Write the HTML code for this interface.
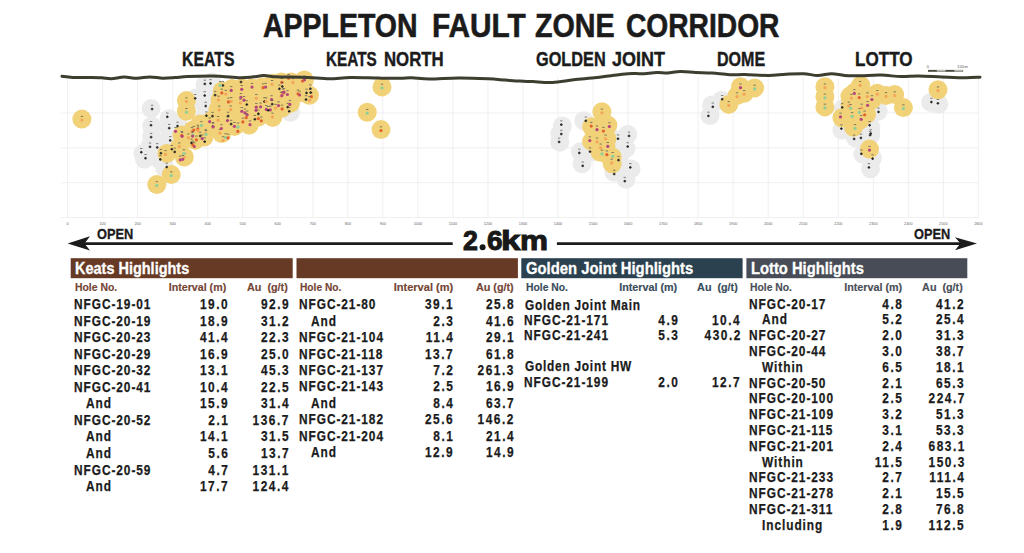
<!DOCTYPE html><html><head><meta charset="utf-8"><style>
html,body{margin:0;padding:0;background:#fff;}
body{width:1024px;height:553px;position:relative;overflow:hidden;font-family:"Liberation Sans",sans-serif;}
.t{position:absolute;white-space:pre;}
svg{position:absolute;left:0;top:0;}
</style></head><body>
<svg width="1024" height="553" viewBox="0 0 1024 553">
<line x1="67.60" y1="77" x2="67.60" y2="218" stroke="#ececec" stroke-width="0.8"/>
<line x1="102.63" y1="77" x2="102.63" y2="218" stroke="#ececec" stroke-width="0.8"/>
<line x1="137.66" y1="77" x2="137.66" y2="218" stroke="#ececec" stroke-width="0.8"/>
<line x1="172.69" y1="77" x2="172.69" y2="218" stroke="#ececec" stroke-width="0.8"/>
<line x1="207.72" y1="77" x2="207.72" y2="218" stroke="#ececec" stroke-width="0.8"/>
<line x1="242.75" y1="77" x2="242.75" y2="218" stroke="#ececec" stroke-width="0.8"/>
<line x1="277.78" y1="77" x2="277.78" y2="218" stroke="#ececec" stroke-width="0.8"/>
<line x1="312.81" y1="77" x2="312.81" y2="218" stroke="#ececec" stroke-width="0.8"/>
<line x1="347.84" y1="77" x2="347.84" y2="218" stroke="#ececec" stroke-width="0.8"/>
<line x1="382.87" y1="77" x2="382.87" y2="218" stroke="#ececec" stroke-width="0.8"/>
<line x1="417.90" y1="77" x2="417.90" y2="218" stroke="#ececec" stroke-width="0.8"/>
<line x1="452.93" y1="77" x2="452.93" y2="218" stroke="#ececec" stroke-width="0.8"/>
<line x1="487.96" y1="77" x2="487.96" y2="218" stroke="#ececec" stroke-width="0.8"/>
<line x1="522.99" y1="77" x2="522.99" y2="218" stroke="#ececec" stroke-width="0.8"/>
<line x1="558.02" y1="77" x2="558.02" y2="218" stroke="#ececec" stroke-width="0.8"/>
<line x1="593.05" y1="77" x2="593.05" y2="218" stroke="#ececec" stroke-width="0.8"/>
<line x1="628.08" y1="77" x2="628.08" y2="218" stroke="#ececec" stroke-width="0.8"/>
<line x1="663.11" y1="77" x2="663.11" y2="218" stroke="#ececec" stroke-width="0.8"/>
<line x1="698.14" y1="77" x2="698.14" y2="218" stroke="#ececec" stroke-width="0.8"/>
<line x1="733.17" y1="77" x2="733.17" y2="218" stroke="#ececec" stroke-width="0.8"/>
<line x1="768.20" y1="77" x2="768.20" y2="218" stroke="#ececec" stroke-width="0.8"/>
<line x1="803.23" y1="77" x2="803.23" y2="218" stroke="#ececec" stroke-width="0.8"/>
<line x1="838.26" y1="77" x2="838.26" y2="218" stroke="#ececec" stroke-width="0.8"/>
<line x1="873.29" y1="77" x2="873.29" y2="218" stroke="#ececec" stroke-width="0.8"/>
<line x1="908.32" y1="77" x2="908.32" y2="218" stroke="#ececec" stroke-width="0.8"/>
<line x1="943.35" y1="77" x2="943.35" y2="218" stroke="#ececec" stroke-width="0.8"/>
<line x1="978.38" y1="77" x2="978.38" y2="218" stroke="#ececec" stroke-width="0.8"/>
<line x1="61" y1="112.9" x2="979" y2="112.9" stroke="#ececec" stroke-width="0.8"/>
<line x1="61" y1="147.8" x2="979" y2="147.8" stroke="#ececec" stroke-width="0.8"/>
<line x1="61" y1="182.7" x2="979" y2="182.7" stroke="#ececec" stroke-width="0.8"/>
<line x1="61" y1="217.5" x2="979" y2="217.5" stroke="#ececec" stroke-width="0.8"/>
<text x="67.60" y="225" font-size="3.8" fill="#666" text-anchor="middle" font-family="Liberation Sans">0</text>
<text x="102.63" y="225" font-size="3.8" fill="#666" text-anchor="middle" font-family="Liberation Sans">100</text>
<text x="137.66" y="225" font-size="3.8" fill="#666" text-anchor="middle" font-family="Liberation Sans">200</text>
<text x="172.69" y="225" font-size="3.8" fill="#666" text-anchor="middle" font-family="Liberation Sans">300</text>
<text x="207.72" y="225" font-size="3.8" fill="#666" text-anchor="middle" font-family="Liberation Sans">400</text>
<text x="242.75" y="225" font-size="3.8" fill="#666" text-anchor="middle" font-family="Liberation Sans">500</text>
<text x="277.78" y="225" font-size="3.8" fill="#666" text-anchor="middle" font-family="Liberation Sans">600</text>
<text x="312.81" y="225" font-size="3.8" fill="#666" text-anchor="middle" font-family="Liberation Sans">700</text>
<text x="347.84" y="225" font-size="3.8" fill="#666" text-anchor="middle" font-family="Liberation Sans">800</text>
<text x="382.87" y="225" font-size="3.8" fill="#666" text-anchor="middle" font-family="Liberation Sans">900</text>
<text x="417.90" y="225" font-size="3.8" fill="#666" text-anchor="middle" font-family="Liberation Sans">1000</text>
<text x="452.93" y="225" font-size="3.8" fill="#666" text-anchor="middle" font-family="Liberation Sans">1100</text>
<text x="487.96" y="225" font-size="3.8" fill="#666" text-anchor="middle" font-family="Liberation Sans">1200</text>
<text x="522.99" y="225" font-size="3.8" fill="#666" text-anchor="middle" font-family="Liberation Sans">1300</text>
<text x="558.02" y="225" font-size="3.8" fill="#666" text-anchor="middle" font-family="Liberation Sans">1400</text>
<text x="593.05" y="225" font-size="3.8" fill="#666" text-anchor="middle" font-family="Liberation Sans">1500</text>
<text x="628.08" y="225" font-size="3.8" fill="#666" text-anchor="middle" font-family="Liberation Sans">1600</text>
<text x="663.11" y="225" font-size="3.8" fill="#666" text-anchor="middle" font-family="Liberation Sans">1700</text>
<text x="698.14" y="225" font-size="3.8" fill="#666" text-anchor="middle" font-family="Liberation Sans">1800</text>
<text x="733.17" y="225" font-size="3.8" fill="#666" text-anchor="middle" font-family="Liberation Sans">1900</text>
<text x="768.20" y="225" font-size="3.8" fill="#666" text-anchor="middle" font-family="Liberation Sans">2000</text>
<text x="803.23" y="225" font-size="3.8" fill="#666" text-anchor="middle" font-family="Liberation Sans">2100</text>
<text x="838.26" y="225" font-size="3.8" fill="#666" text-anchor="middle" font-family="Liberation Sans">2200</text>
<text x="873.29" y="225" font-size="3.8" fill="#666" text-anchor="middle" font-family="Liberation Sans">2300</text>
<text x="908.32" y="225" font-size="3.8" fill="#666" text-anchor="middle" font-family="Liberation Sans">2400</text>
<text x="943.35" y="225" font-size="3.8" fill="#666" text-anchor="middle" font-family="Liberation Sans">2500</text>
<text x="978.38" y="225" font-size="3.8" fill="#666" text-anchor="middle" font-family="Liberation Sans">2600</text>
<circle cx="151" cy="108.6" r="9.5" fill="#ebebeb"/>
<circle cx="151.7" cy="125.9" r="9.5" fill="#ebebeb"/>
<circle cx="151.7" cy="136" r="9.5" fill="#ebebeb"/>
<circle cx="143" cy="153.4" r="9.5" fill="#ebebeb"/>
<circle cx="144.5" cy="159.2" r="9.5" fill="#ebebeb"/>
<circle cx="169" cy="118.7" r="9.5" fill="#ebebeb"/>
<circle cx="169" cy="128.8" r="9.5" fill="#ebebeb"/>
<circle cx="168.3" cy="138.9" r="9.5" fill="#ebebeb"/>
<circle cx="164.7" cy="167.9" r="9.5" fill="#ebebeb"/>
<circle cx="158.9" cy="149" r="9.5" fill="#ebebeb"/>
<circle cx="150" cy="146" r="9.5" fill="#ebebeb"/>
<circle cx="205" cy="85" r="9.5" fill="#ebebeb"/>
<circle cx="205" cy="95" r="9.5" fill="#ebebeb"/>
<circle cx="205" cy="105" r="9.5" fill="#ebebeb"/>
<circle cx="205" cy="115" r="9.5" fill="#ebebeb"/>
<circle cx="212" cy="82" r="9.5" fill="#ebebeb"/>
<circle cx="196" cy="98" r="9.5" fill="#ebebeb"/>
<circle cx="178" cy="125" r="9.5" fill="#ebebeb"/>
<circle cx="290.4" cy="112.3" r="9.5" fill="#ebebeb"/>
<circle cx="562.3" cy="126" r="9.5" fill="#ebebeb"/>
<circle cx="559.8" cy="133.7" r="9.5" fill="#ebebeb"/>
<circle cx="559.8" cy="142.3" r="9.5" fill="#ebebeb"/>
<circle cx="583.8" cy="120.8" r="9.5" fill="#ebebeb"/>
<circle cx="580.4" cy="151.7" r="9.5" fill="#ebebeb"/>
<circle cx="582.1" cy="163.8" r="9.5" fill="#ebebeb"/>
<circle cx="591.6" cy="151.7" r="9.5" fill="#ebebeb"/>
<circle cx="627.7" cy="134.5" r="9.5" fill="#ebebeb"/>
<circle cx="626" cy="148.3" r="9.5" fill="#ebebeb"/>
<circle cx="631.1" cy="168.9" r="9.5" fill="#ebebeb"/>
<circle cx="626" cy="179.2" r="9.5" fill="#ebebeb"/>
<circle cx="613.9" cy="172.3" r="9.5" fill="#ebebeb"/>
<circle cx="619" cy="158.6" r="9.5" fill="#ebebeb"/>
<circle cx="618.2" cy="139.7" r="9.5" fill="#ebebeb"/>
<circle cx="711.7" cy="105" r="9.5" fill="#ebebeb"/>
<circle cx="710" cy="115.5" r="9.5" fill="#ebebeb"/>
<circle cx="721.7" cy="100.3" r="9.5" fill="#ebebeb"/>
<circle cx="841.9" cy="130" r="9.5" fill="#ebebeb"/>
<circle cx="843.4" cy="108.4" r="9.5" fill="#ebebeb"/>
<circle cx="878.1" cy="111.3" r="9.5" fill="#ebebeb"/>
<circle cx="870.8" cy="127.2" r="9.5" fill="#ebebeb"/>
<circle cx="870.8" cy="134.4" r="9.5" fill="#ebebeb"/>
<circle cx="862.2" cy="138.7" r="9.5" fill="#ebebeb"/>
<circle cx="855.3" cy="137.7" r="9.5" fill="#ebebeb"/>
<circle cx="870.5" cy="135.2" r="9.5" fill="#ebebeb"/>
<circle cx="862.9" cy="154.2" r="9.5" fill="#ebebeb"/>
<circle cx="872.4" cy="158" r="9.5" fill="#ebebeb"/>
<circle cx="870.5" cy="168.7" r="9.5" fill="#ebebeb"/>
<circle cx="930.6" cy="102.4" r="9.5" fill="#ebebeb"/>
<circle cx="938.8" cy="104.1" r="9.5" fill="#ebebeb"/>
<circle cx="170" cy="150" r="9.5" fill="#ebebeb"/>
<circle cx="160" cy="160" r="9.5" fill="#ebebeb"/>
<circle cx="186.4" cy="100.6" r="9.5" fill="#f1d278"/>
<circle cx="186.4" cy="111.2" r="9.5" fill="#f1d278"/>
<circle cx="156.8" cy="184.5" r="9.5" fill="#f1d278"/>
<circle cx="171.2" cy="174.6" r="9.5" fill="#f1d278"/>
<circle cx="166.9" cy="153.4" r="9.5" fill="#f1d278"/>
<circle cx="184.3" cy="157" r="9.5" fill="#f1d278"/>
<circle cx="179.2" cy="147.6" r="9.5" fill="#f1d278"/>
<circle cx="183.5" cy="136" r="9.5" fill="#f1d278"/>
<circle cx="195.1" cy="140.4" r="9.5" fill="#f1d278"/>
<circle cx="205.2" cy="131.7" r="9.5" fill="#f1d278"/>
<circle cx="222.2" cy="91" r="9.5" fill="#f1d278"/>
<circle cx="217.8" cy="110" r="9.5" fill="#f1d278"/>
<circle cx="220" cy="100" r="9.5" fill="#f1d278"/>
<circle cx="211" cy="121" r="9.5" fill="#f1d278"/>
<circle cx="228" cy="120" r="9.5" fill="#f1d278"/>
<circle cx="221.7" cy="133.6" r="9.5" fill="#f1d278"/>
<circle cx="234.7" cy="126.4" r="9.5" fill="#f1d278"/>
<circle cx="243.1" cy="122" r="9.5" fill="#f1d278"/>
<circle cx="249.2" cy="125" r="9.5" fill="#f1d278"/>
<circle cx="258.3" cy="117" r="9.5" fill="#f1d278"/>
<circle cx="232" cy="88.5" r="9.5" fill="#f1d278"/>
<circle cx="242" cy="88" r="9.5" fill="#f1d278"/>
<circle cx="252" cy="88" r="9.5" fill="#f1d278"/>
<circle cx="262" cy="87" r="9.5" fill="#f1d278"/>
<circle cx="272.7" cy="83.2" r="9.5" fill="#f1d278"/>
<circle cx="281.5" cy="81.9" r="9.5" fill="#f1d278"/>
<circle cx="291.1" cy="82" r="9.5" fill="#f1d278"/>
<circle cx="304.3" cy="80" r="9.5" fill="#f1d278"/>
<circle cx="309.4" cy="95.2" r="9.5" fill="#f1d278"/>
<circle cx="290.4" cy="103.4" r="9.5" fill="#f1d278"/>
<circle cx="272.7" cy="117.4" r="9.5" fill="#f1d278"/>
<circle cx="233" cy="100" r="9.5" fill="#f1d278"/>
<circle cx="245" cy="100" r="9.5" fill="#f1d278"/>
<circle cx="258" cy="98" r="9.5" fill="#f1d278"/>
<circle cx="270" cy="98" r="9.5" fill="#f1d278"/>
<circle cx="282" cy="96" r="9.5" fill="#f1d278"/>
<circle cx="298" cy="93" r="9.5" fill="#f1d278"/>
<circle cx="232" cy="110" r="9.5" fill="#f1d278"/>
<circle cx="245" cy="112" r="9.5" fill="#f1d278"/>
<circle cx="258" cy="110" r="9.5" fill="#f1d278"/>
<circle cx="270" cy="108" r="9.5" fill="#f1d278"/>
<circle cx="282" cy="108" r="9.5" fill="#f1d278"/>
<circle cx="204" cy="137" r="9.5" fill="#f1d278"/>
<circle cx="81.9" cy="119.1" r="9.5" fill="#f1d278"/>
<circle cx="382" cy="86.9" r="9.5" fill="#f1d278"/>
<circle cx="367.2" cy="112.2" r="9.5" fill="#f1d278"/>
<circle cx="381" cy="129.6" r="9.5" fill="#f1d278"/>
<circle cx="601.9" cy="111.8" r="9.5" fill="#f1d278"/>
<circle cx="607.9" cy="125.1" r="9.5" fill="#f1d278"/>
<circle cx="591.6" cy="126.8" r="9.5" fill="#f1d278"/>
<circle cx="591.6" cy="141.4" r="9.5" fill="#f1d278"/>
<circle cx="607" cy="138.8" r="9.5" fill="#f1d278"/>
<circle cx="602.7" cy="148.3" r="9.5" fill="#f1d278"/>
<circle cx="612.2" cy="163.8" r="9.5" fill="#f1d278"/>
<circle cx="612.2" cy="156.9" r="9.5" fill="#f1d278"/>
<circle cx="740.5" cy="86.7" r="9.5" fill="#f1d278"/>
<circle cx="754.6" cy="87.9" r="9.5" fill="#f1d278"/>
<circle cx="744.1" cy="93.2" r="9.5" fill="#f1d278"/>
<circle cx="737" cy="95.6" r="9.5" fill="#f1d278"/>
<circle cx="728.8" cy="104.4" r="9.5" fill="#f1d278"/>
<circle cx="824.9" cy="86.7" r="9.5" fill="#f1d278"/>
<circle cx="824.9" cy="96.8" r="9.5" fill="#f1d278"/>
<circle cx="824.9" cy="106.9" r="9.5" fill="#f1d278"/>
<circle cx="860.7" cy="85.2" r="9.5" fill="#f1d278"/>
<circle cx="849.9" cy="96.1" r="9.5" fill="#f1d278"/>
<circle cx="859.3" cy="98.3" r="9.5" fill="#f1d278"/>
<circle cx="868" cy="96.8" r="9.5" fill="#f1d278"/>
<circle cx="877.3" cy="93.2" r="9.5" fill="#f1d278"/>
<circle cx="886" cy="95.4" r="9.5" fill="#f1d278"/>
<circle cx="894.7" cy="94.6" r="9.5" fill="#f1d278"/>
<circle cx="903.4" cy="107.6" r="9.5" fill="#f1d278"/>
<circle cx="841.9" cy="117.8" r="9.5" fill="#f1d278"/>
<circle cx="852" cy="117" r="9.5" fill="#f1d278"/>
<circle cx="866.5" cy="114.2" r="9.5" fill="#f1d278"/>
<circle cx="853.5" cy="127.2" r="9.5" fill="#f1d278"/>
<circle cx="862.2" cy="108.4" r="9.5" fill="#f1d278"/>
<circle cx="869.5" cy="149.1" r="9.5" fill="#f1d278"/>
<circle cx="938" cy="89.7" r="9.5" fill="#f1d278"/>
<circle cx="182" cy="135" r="9.5" fill="#f1d278"/>
<circle cx="193" cy="130" r="9.5" fill="#f1d278"/>
<circle cx="200" cy="124" r="9.5" fill="#f1d278"/>
<circle cx="596" cy="130" r="9.5" fill="#f1d278"/>
<circle cx="604" cy="132" r="9.5" fill="#f1d278"/>
<circle cx="598" cy="142" r="9.5" fill="#f1d278"/>
<circle cx="606" cy="146" r="9.5" fill="#f1d278"/>
<circle cx="600" cy="152" r="9.5" fill="#f1d278"/>
<circle cx="608" cy="155" r="9.5" fill="#f1d278"/>
<circle cx="850" cy="105" r="9.5" fill="#f1d278"/>
<circle cx="858" cy="112" r="9.5" fill="#f1d278"/>
<circle cx="860" cy="120" r="9.5" fill="#f1d278"/>
<circle cx="866" cy="104" r="9.5" fill="#f1d278"/>
<circle cx="872" cy="100" r="9.5" fill="#f1d278"/>
<circle cx="855" cy="92" r="9.5" fill="#f1d278"/>
<circle cx="851" cy="108" r="9.5" fill="#f1d278"/>
<circle cx="186.4" cy="101.6" r="1.6" fill="#f3a55a"/>
<rect x="185.2" y="97.4" width="2.4" height="0.9" fill="#555" opacity="0.8"/>
<circle cx="186.4" cy="112.2" r="1.6" fill="#8fcf9a"/>
<rect x="185.2" y="108.0" width="2.4" height="0.9" fill="#555" opacity="0.8"/>
<circle cx="156.8" cy="185.5" r="1.6" fill="#8fcf9a"/>
<rect x="155.6" y="181.3" width="2.4" height="0.9" fill="#555" opacity="0.8"/>
<circle cx="171.2" cy="175.6" r="1.6" fill="#8fcf9a"/>
<rect x="170.0" y="171.4" width="2.4" height="0.9" fill="#555" opacity="0.8"/>
<circle cx="165.5" cy="154.4" r="1.6" fill="#f3a55a"/>
<rect x="164.3" y="150.2" width="2.4" height="0.9" fill="#555" opacity="0.8"/>
<circle cx="184.4" cy="157.1" r="1.6" fill="#f3a55a"/>
<rect x="183.2" y="152.9" width="2.4" height="0.9" fill="#555" opacity="0.8"/>
<circle cx="179.2" cy="146.7" r="1.6" fill="#f3a55a"/>
<rect x="178.0" y="142.5" width="2.4" height="0.9" fill="#555" opacity="0.8"/>
<circle cx="181.8" cy="135.3" r="1.6" fill="#e2622f"/>
<rect x="180.6" y="131.1" width="2.4" height="0.9" fill="#555" opacity="0.8"/>
<circle cx="196.4" cy="139.8" r="1.6" fill="#e2622f"/>
<rect x="195.2" y="135.6" width="2.4" height="0.9" fill="#555" opacity="0.8"/>
<circle cx="205.7" cy="133.5" r="1.6" fill="#f3a55a"/>
<rect x="204.5" y="129.3" width="2.4" height="0.9" fill="#555" opacity="0.8"/>
<circle cx="221.8" cy="92.9" r="1.6" fill="#e2622f"/>
<rect x="220.6" y="88.7" width="2.4" height="0.9" fill="#555" opacity="0.8"/>
<circle cx="219.2" cy="109.9" r="1.6" fill="#f3a55a"/>
<rect x="218.0" y="105.7" width="2.4" height="0.9" fill="#555" opacity="0.8"/>
<circle cx="218.5" cy="99.9" r="1.6" fill="#f3a55a"/>
<rect x="217.3" y="95.7" width="2.4" height="0.9" fill="#555" opacity="0.8"/>
<circle cx="209.7" cy="121.7" r="1.6" fill="#b5457e"/>
<rect x="208.5" y="117.5" width="2.4" height="0.9" fill="#555" opacity="0.8"/>
<circle cx="227.5" cy="120.6" r="1.6" fill="#b5457e"/>
<rect x="226.3" y="116.4" width="2.4" height="0.9" fill="#555" opacity="0.8"/>
<circle cx="219.9" cy="133.2" r="1.6" fill="#f3a55a"/>
<rect x="218.7" y="129.0" width="2.4" height="0.9" fill="#555" opacity="0.8"/>
<circle cx="234.4" cy="126.3" r="1.6" fill="#b5457e"/>
<rect x="233.2" y="122.1" width="2.4" height="0.9" fill="#555" opacity="0.8"/>
<circle cx="242.9" cy="121.9" r="1.6" fill="#e2622f"/>
<rect x="241.7" y="117.7" width="2.4" height="0.9" fill="#555" opacity="0.8"/>
<circle cx="250.0" cy="124.7" r="1.6" fill="#b5457e"/>
<rect x="248.8" y="120.5" width="2.4" height="0.9" fill="#555" opacity="0.8"/>
<circle cx="258.4" cy="118.6" r="1.6" fill="#e2622f"/>
<rect x="257.2" y="114.4" width="2.4" height="0.9" fill="#555" opacity="0.8"/>
<circle cx="231.2" cy="90.4" r="1.6" fill="#b5457e"/>
<rect x="230.0" y="86.2" width="2.4" height="0.9" fill="#555" opacity="0.8"/>
<circle cx="241.7" cy="89.3" r="1.6" fill="#b5457e"/>
<rect x="240.5" y="85.1" width="2.4" height="0.9" fill="#555" opacity="0.8"/>
<circle cx="252.0" cy="87.1" r="1.6" fill="#b5457e"/>
<rect x="250.8" y="82.9" width="2.4" height="0.9" fill="#555" opacity="0.8"/>
<circle cx="263.1" cy="87.7" r="1.6" fill="#e2622f"/>
<rect x="261.9" y="83.5" width="2.4" height="0.9" fill="#555" opacity="0.8"/>
<circle cx="272.0" cy="84.3" r="1.6" fill="#f3a55a"/>
<rect x="270.8" y="80.1" width="2.4" height="0.9" fill="#555" opacity="0.8"/>
<circle cx="281.8" cy="82.3" r="1.6" fill="#e2622f"/>
<rect x="280.6" y="78.1" width="2.4" height="0.9" fill="#555" opacity="0.8"/>
<circle cx="292.9" cy="82.4" r="1.6" fill="#f3a55a"/>
<rect x="291.7" y="78.2" width="2.4" height="0.9" fill="#555" opacity="0.8"/>
<circle cx="302.5" cy="81.1" r="1.6" fill="#e2622f"/>
<rect x="301.3" y="76.9" width="2.4" height="0.9" fill="#555" opacity="0.8"/>
<circle cx="311.4" cy="96.7" r="1.6" fill="#e2622f"/>
<rect x="310.2" y="92.5" width="2.4" height="0.9" fill="#555" opacity="0.8"/>
<circle cx="289.9" cy="104.4" r="1.6" fill="#b5457e"/>
<rect x="288.7" y="100.2" width="2.4" height="0.9" fill="#555" opacity="0.8"/>
<circle cx="272.5" cy="116.9" r="1.6" fill="#f3a55a"/>
<rect x="271.3" y="112.7" width="2.4" height="0.9" fill="#555" opacity="0.8"/>
<circle cx="231.2" cy="101.3" r="1.6" fill="#f3a55a"/>
<rect x="230.0" y="97.1" width="2.4" height="0.9" fill="#555" opacity="0.8"/>
<circle cx="244.0" cy="100.2" r="1.6" fill="#b5457e"/>
<rect x="242.8" y="96.0" width="2.4" height="0.9" fill="#555" opacity="0.8"/>
<circle cx="256.3" cy="98.3" r="1.6" fill="#f3a55a"/>
<rect x="255.1" y="94.1" width="2.4" height="0.9" fill="#555" opacity="0.8"/>
<circle cx="271.5" cy="99.5" r="1.6" fill="#b5457e"/>
<rect x="270.3" y="95.3" width="2.4" height="0.9" fill="#555" opacity="0.8"/>
<circle cx="281.1" cy="96.2" r="1.6" fill="#f3a55a"/>
<rect x="279.9" y="92.0" width="2.4" height="0.9" fill="#555" opacity="0.8"/>
<circle cx="299.5" cy="94.9" r="1.6" fill="#b5457e"/>
<rect x="298.3" y="90.7" width="2.4" height="0.9" fill="#555" opacity="0.8"/>
<circle cx="230.7" cy="109.7" r="1.6" fill="#f3a55a"/>
<rect x="229.5" y="105.5" width="2.4" height="0.9" fill="#555" opacity="0.8"/>
<circle cx="244.9" cy="112.8" r="1.6" fill="#b5457e"/>
<rect x="243.7" y="108.6" width="2.4" height="0.9" fill="#555" opacity="0.8"/>
<circle cx="256.0" cy="110.3" r="1.6" fill="#b5457e"/>
<rect x="254.8" y="106.1" width="2.4" height="0.9" fill="#555" opacity="0.8"/>
<circle cx="270.3" cy="109.9" r="1.6" fill="#b5457e"/>
<rect x="269.1" y="105.7" width="2.4" height="0.9" fill="#555" opacity="0.8"/>
<circle cx="282.1" cy="108.9" r="1.6" fill="#e2622f"/>
<rect x="280.9" y="104.7" width="2.4" height="0.9" fill="#555" opacity="0.8"/>
<circle cx="202.2" cy="138.7" r="1.6" fill="#b5457e"/>
<rect x="201.0" y="134.5" width="2.4" height="0.9" fill="#555" opacity="0.8"/>
<circle cx="81.9" cy="120.1" r="1.6" fill="#f3a55a"/>
<rect x="80.7" y="115.9" width="2.4" height="0.9" fill="#555" opacity="0.8"/>
<circle cx="382.0" cy="87.9" r="1.6" fill="#8fcf9a"/>
<rect x="380.8" y="83.7" width="2.4" height="0.9" fill="#555" opacity="0.8"/>
<circle cx="367.2" cy="113.2" r="1.6" fill="#8fcf9a"/>
<rect x="366.0" y="109.0" width="2.4" height="0.9" fill="#555" opacity="0.8"/>
<circle cx="381.0" cy="130.6" r="1.6" fill="#e2622f"/>
<rect x="379.8" y="126.4" width="2.4" height="0.9" fill="#555" opacity="0.8"/>
<circle cx="601.9" cy="112.8" r="1.6" fill="#f3a55a"/>
<rect x="600.7" y="108.6" width="2.4" height="0.9" fill="#555" opacity="0.8"/>
<circle cx="609.4" cy="126.5" r="1.6" fill="#b5457e"/>
<rect x="608.2" y="122.3" width="2.4" height="0.9" fill="#555" opacity="0.8"/>
<circle cx="591.2" cy="126.1" r="1.6" fill="#e2622f"/>
<rect x="590.0" y="121.9" width="2.4" height="0.9" fill="#555" opacity="0.8"/>
<circle cx="589.8" cy="140.6" r="1.6" fill="#b5457e"/>
<rect x="588.6" y="136.4" width="2.4" height="0.9" fill="#555" opacity="0.8"/>
<circle cx="605.6" cy="138.8" r="1.6" fill="#f3a55a"/>
<rect x="604.4" y="134.6" width="2.4" height="0.9" fill="#555" opacity="0.8"/>
<circle cx="600.7" cy="147.8" r="1.6" fill="#f3a55a"/>
<rect x="599.5" y="143.6" width="2.4" height="0.9" fill="#555" opacity="0.8"/>
<circle cx="611.7" cy="162.9" r="1.6" fill="#f3a55a"/>
<rect x="610.5" y="158.7" width="2.4" height="0.9" fill="#555" opacity="0.8"/>
<circle cx="612.7" cy="156.3" r="1.6" fill="#8fcf9a"/>
<rect x="611.5" y="152.1" width="2.4" height="0.9" fill="#555" opacity="0.8"/>
<circle cx="740.5" cy="87.7" r="1.6" fill="#b5457e"/>
<rect x="739.3" y="83.5" width="2.4" height="0.9" fill="#555" opacity="0.8"/>
<circle cx="754.6" cy="88.9" r="1.6" fill="#8fcf9a"/>
<rect x="753.4" y="84.7" width="2.4" height="0.9" fill="#555" opacity="0.8"/>
<circle cx="744.1" cy="94.2" r="1.6" fill="#f3a55a"/>
<rect x="742.9" y="90.0" width="2.4" height="0.9" fill="#555" opacity="0.8"/>
<circle cx="737.0" cy="96.6" r="1.6" fill="#f3a55a"/>
<rect x="735.8" y="92.4" width="2.4" height="0.9" fill="#555" opacity="0.8"/>
<circle cx="728.8" cy="105.4" r="1.6" fill="#f3a55a"/>
<rect x="727.6" y="101.2" width="2.4" height="0.9" fill="#555" opacity="0.8"/>
<circle cx="824.9" cy="87.7" r="1.6" fill="#f3a55a"/>
<rect x="823.7" y="83.5" width="2.4" height="0.9" fill="#555" opacity="0.8"/>
<circle cx="824.9" cy="97.8" r="1.6" fill="#8fcf9a"/>
<rect x="823.7" y="93.6" width="2.4" height="0.9" fill="#555" opacity="0.8"/>
<circle cx="824.9" cy="107.9" r="1.6" fill="#8fcf9a"/>
<rect x="823.7" y="103.7" width="2.4" height="0.9" fill="#555" opacity="0.8"/>
<circle cx="860.1" cy="85.3" r="1.6" fill="#f3a55a"/>
<rect x="858.9" y="81.1" width="2.4" height="0.9" fill="#555" opacity="0.8"/>
<circle cx="851.3" cy="98.1" r="1.6" fill="#f3a55a"/>
<rect x="850.1" y="93.9" width="2.4" height="0.9" fill="#555" opacity="0.8"/>
<circle cx="859.2" cy="97.6" r="1.6" fill="#e2622f"/>
<rect x="858.0" y="93.4" width="2.4" height="0.9" fill="#555" opacity="0.8"/>
<circle cx="867.4" cy="96.6" r="1.6" fill="#f3a55a"/>
<rect x="866.2" y="92.4" width="2.4" height="0.9" fill="#555" opacity="0.8"/>
<circle cx="877.3" cy="94.2" r="1.6" fill="#f3a55a"/>
<rect x="876.1" y="90.0" width="2.4" height="0.9" fill="#555" opacity="0.8"/>
<circle cx="886.0" cy="96.4" r="1.6" fill="#f3a55a"/>
<rect x="884.8" y="92.2" width="2.4" height="0.9" fill="#555" opacity="0.8"/>
<circle cx="894.7" cy="95.6" r="1.6" fill="#f3a55a"/>
<rect x="893.5" y="91.4" width="2.4" height="0.9" fill="#555" opacity="0.8"/>
<circle cx="903.4" cy="108.6" r="1.6" fill="#8fcf9a"/>
<rect x="902.2" y="104.4" width="2.4" height="0.9" fill="#555" opacity="0.8"/>
<circle cx="840.5" cy="116.9" r="1.6" fill="#b5457e"/>
<rect x="839.3" y="112.7" width="2.4" height="0.9" fill="#555" opacity="0.8"/>
<circle cx="852.1" cy="116.4" r="1.6" fill="#8fcf9a"/>
<rect x="850.9" y="112.2" width="2.4" height="0.9" fill="#555" opacity="0.8"/>
<circle cx="864.6" cy="114.8" r="1.6" fill="#e2622f"/>
<rect x="863.4" y="110.6" width="2.4" height="0.9" fill="#555" opacity="0.8"/>
<circle cx="855.0" cy="128.3" r="1.6" fill="#8fcf9a"/>
<rect x="853.8" y="124.1" width="2.4" height="0.9" fill="#555" opacity="0.8"/>
<circle cx="861.7" cy="107.9" r="1.6" fill="#f3a55a"/>
<rect x="860.5" y="103.7" width="2.4" height="0.9" fill="#555" opacity="0.8"/>
<circle cx="869.5" cy="150.1" r="1.6" fill="#b5457e"/>
<rect x="868.3" y="145.9" width="2.4" height="0.9" fill="#555" opacity="0.8"/>
<circle cx="938.0" cy="90.7" r="1.6" fill="#f3a55a"/>
<rect x="936.8" y="86.5" width="2.4" height="0.9" fill="#555" opacity="0.8"/>
<circle cx="182.1" cy="136.3" r="1.6" fill="#b5457e"/>
<rect x="180.9" y="132.1" width="2.4" height="0.9" fill="#555" opacity="0.8"/>
<circle cx="191.9" cy="131.4" r="1.6" fill="#f3a55a"/>
<rect x="190.7" y="127.2" width="2.4" height="0.9" fill="#555" opacity="0.8"/>
<circle cx="201.4" cy="125.4" r="1.6" fill="#8fcf9a"/>
<rect x="200.2" y="121.2" width="2.4" height="0.9" fill="#555" opacity="0.8"/>
<circle cx="597.0" cy="129.7" r="1.6" fill="#b5457e"/>
<rect x="595.8" y="125.5" width="2.4" height="0.9" fill="#555" opacity="0.8"/>
<circle cx="603.4" cy="131.1" r="1.6" fill="#e2622f"/>
<rect x="602.2" y="126.9" width="2.4" height="0.9" fill="#555" opacity="0.8"/>
<circle cx="597.1" cy="141.8" r="1.6" fill="#f3a55a"/>
<rect x="595.9" y="137.6" width="2.4" height="0.9" fill="#555" opacity="0.8"/>
<circle cx="607.8" cy="146.3" r="1.6" fill="#b5457e"/>
<rect x="606.6" y="142.1" width="2.4" height="0.9" fill="#555" opacity="0.8"/>
<circle cx="602.0" cy="153.9" r="1.6" fill="#8fcf9a"/>
<rect x="600.8" y="149.7" width="2.4" height="0.9" fill="#555" opacity="0.8"/>
<circle cx="606.9" cy="154.7" r="1.6" fill="#e2622f"/>
<rect x="605.7" y="150.5" width="2.4" height="0.9" fill="#555" opacity="0.8"/>
<circle cx="848.8" cy="105.9" r="1.6" fill="#f3a55a"/>
<rect x="847.6" y="101.7" width="2.4" height="0.9" fill="#555" opacity="0.8"/>
<circle cx="859.4" cy="112.4" r="1.6" fill="#8fcf9a"/>
<rect x="858.2" y="108.2" width="2.4" height="0.9" fill="#555" opacity="0.8"/>
<circle cx="861.2" cy="119.3" r="1.6" fill="#b5457e"/>
<rect x="860.0" y="115.1" width="2.4" height="0.9" fill="#555" opacity="0.8"/>
<circle cx="867.6" cy="105.3" r="1.6" fill="#b5457e"/>
<rect x="866.4" y="101.1" width="2.4" height="0.9" fill="#555" opacity="0.8"/>
<circle cx="871.9" cy="99.5" r="1.6" fill="#b5457e"/>
<rect x="870.7" y="95.3" width="2.4" height="0.9" fill="#555" opacity="0.8"/>
<circle cx="854.3" cy="93.4" r="1.6" fill="#b5457e"/>
<rect x="853.1" y="89.2" width="2.4" height="0.9" fill="#555" opacity="0.8"/>
<circle cx="850.6" cy="108.2" r="1.6" fill="#8fcf9a"/>
<rect x="849.4" y="104.0" width="2.4" height="0.9" fill="#555" opacity="0.8"/>
<circle cx="283.1" cy="92.9" r="1.6" fill="#e2622f"/>
<rect x="281.9" y="88.7" width="2.4" height="0.9" fill="#555" opacity="0.8"/>
<rect x="257.1" y="113.1" width="2.6" height="1.3" fill="#2a2a2a"/><rect x="257.8" y="112.4" width="1.2" height="2.6" fill="#2a2a2a"/>
<rect x="257.2" y="109.5" width="2.4" height="0.9" fill="#555" opacity="0.8"/>
<rect x="245.5" y="103.9" width="2.6" height="1.3" fill="#2a2a2a"/><rect x="246.2" y="103.2" width="1.2" height="2.6" fill="#2a2a2a"/>
<rect x="245.6" y="100.3" width="2.4" height="0.9" fill="#555" opacity="0.8"/>
<circle cx="225.6" cy="137.5" r="1.6" fill="#8fcf9a"/>
<rect x="224.4" y="133.3" width="2.4" height="0.9" fill="#555" opacity="0.8"/>
<circle cx="237.8" cy="131.4" r="1.6" fill="#e2622f"/>
<rect x="236.6" y="127.2" width="2.4" height="0.9" fill="#555" opacity="0.8"/>
<circle cx="281.9" cy="95.6" r="1.6" fill="#b5457e"/>
<rect x="280.7" y="91.4" width="2.4" height="0.9" fill="#555" opacity="0.8"/>
<circle cx="241.8" cy="111.3" r="1.6" fill="#b5457e"/>
<rect x="240.6" y="107.1" width="2.4" height="0.9" fill="#555" opacity="0.8"/>
<rect x="278.1" y="88.2" width="2.6" height="1.3" fill="#2a2a2a"/><rect x="278.8" y="87.5" width="1.2" height="2.6" fill="#2a2a2a"/>
<rect x="278.2" y="84.6" width="2.4" height="0.9" fill="#555" opacity="0.8"/>
<circle cx="223.1" cy="140.5" r="1.6" fill="#f3a55a"/>
<rect x="221.9" y="136.3" width="2.4" height="0.9" fill="#555" opacity="0.8"/>
<circle cx="238.0" cy="126.8" r="1.6" fill="#8fcf9a"/>
<rect x="236.8" y="122.6" width="2.4" height="0.9" fill="#555" opacity="0.8"/>
<circle cx="192.8" cy="135.1" r="1.6" fill="#8fcf9a"/>
<rect x="191.6" y="130.9" width="2.4" height="0.9" fill="#555" opacity="0.8"/>
<rect x="221.6" y="84.8" width="2.6" height="1.3" fill="#2a2a2a"/><rect x="222.3" y="84.1" width="1.2" height="2.6" fill="#2a2a2a"/>
<rect x="221.7" y="81.2" width="2.4" height="0.9" fill="#555" opacity="0.8"/>
<circle cx="298.0" cy="93.8" r="1.6" fill="#e2622f"/>
<rect x="296.8" y="89.6" width="2.4" height="0.9" fill="#555" opacity="0.8"/>
<circle cx="309.6" cy="100.4" r="1.6" fill="#f3a55a"/>
<rect x="308.4" y="96.2" width="2.4" height="0.9" fill="#555" opacity="0.8"/>
<circle cx="287.4" cy="94.5" r="1.6" fill="#b5457e"/>
<rect x="286.2" y="90.3" width="2.4" height="0.9" fill="#555" opacity="0.8"/>
<rect x="203.4" y="141.0" width="2.6" height="1.3" fill="#2a2a2a"/><rect x="204.1" y="140.3" width="1.2" height="2.6" fill="#2a2a2a"/>
<rect x="203.5" y="137.4" width="2.4" height="0.9" fill="#555" opacity="0.8"/>
<rect x="309.0" y="88.1" width="2.6" height="1.3" fill="#2a2a2a"/><rect x="309.7" y="87.4" width="1.2" height="2.6" fill="#2a2a2a"/>
<rect x="309.1" y="84.5" width="2.4" height="0.9" fill="#555" opacity="0.8"/>
<circle cx="278.5" cy="105.6" r="1.6" fill="#b5457e"/>
<rect x="277.3" y="101.4" width="2.4" height="0.9" fill="#555" opacity="0.8"/>
<circle cx="265.6" cy="87.1" r="1.6" fill="#b5457e"/>
<rect x="264.4" y="82.9" width="2.4" height="0.9" fill="#555" opacity="0.8"/>
<circle cx="220.2" cy="85.4" r="1.6" fill="#8fcf9a"/>
<rect x="219.0" y="81.2" width="2.4" height="0.9" fill="#555" opacity="0.8"/>
<rect x="281.0" y="85.9" width="2.6" height="1.3" fill="#2a2a2a"/><rect x="281.7" y="85.2" width="1.2" height="2.6" fill="#2a2a2a"/>
<rect x="281.1" y="82.3" width="2.4" height="0.9" fill="#555" opacity="0.8"/>
<circle cx="206.0" cy="134.4" r="1.6" fill="#8fcf9a"/>
<rect x="204.8" y="130.2" width="2.4" height="0.9" fill="#555" opacity="0.8"/>
<circle cx="197.8" cy="129.0" r="1.6" fill="#e2622f"/>
<rect x="196.6" y="124.8" width="2.4" height="0.9" fill="#555" opacity="0.8"/>
<circle cx="240.9" cy="97.3" r="1.6" fill="#b5457e"/>
<rect x="239.7" y="93.1" width="2.4" height="0.9" fill="#555" opacity="0.8"/>
<circle cx="221.3" cy="128.5" r="1.6" fill="#b5457e"/>
<rect x="220.1" y="124.3" width="2.4" height="0.9" fill="#555" opacity="0.8"/>
<rect x="253.6" y="118.7" width="2.6" height="1.3" fill="#2a2a2a"/><rect x="254.3" y="118.0" width="1.2" height="2.6" fill="#2a2a2a"/>
<rect x="253.7" y="115.1" width="2.4" height="0.9" fill="#555" opacity="0.8"/>
<rect x="270.9" y="103.5" width="2.6" height="1.3" fill="#2a2a2a"/><rect x="271.6" y="102.8" width="1.2" height="2.6" fill="#2a2a2a"/>
<rect x="271.0" y="99.9" width="2.4" height="0.9" fill="#555" opacity="0.8"/>
<circle cx="260.6" cy="106.8" r="1.6" fill="#b5457e"/>
<rect x="259.4" y="102.6" width="2.4" height="0.9" fill="#555" opacity="0.8"/>
<circle cx="225.8" cy="94.1" r="1.6" fill="#f3a55a"/>
<rect x="224.6" y="89.9" width="2.4" height="0.9" fill="#555" opacity="0.8"/>
<circle cx="240.3" cy="102.9" r="1.6" fill="#f3a55a"/>
<rect x="239.1" y="98.7" width="2.4" height="0.9" fill="#555" opacity="0.8"/>
<rect x="211.7" y="125.8" width="2.6" height="1.3" fill="#2a2a2a"/><rect x="212.4" y="125.1" width="1.2" height="2.6" fill="#2a2a2a"/>
<rect x="211.8" y="122.2" width="2.4" height="0.9" fill="#555" opacity="0.8"/>
<circle cx="188.4" cy="137.7" r="1.6" fill="#f3a55a"/>
<rect x="187.2" y="133.5" width="2.4" height="0.9" fill="#555" opacity="0.8"/>
<rect x="173.4" y="151.3" width="2.6" height="1.3" fill="#2a2a2a"/><rect x="174.1" y="150.6" width="1.2" height="2.6" fill="#2a2a2a"/>
<rect x="173.5" y="147.7" width="2.4" height="0.9" fill="#555" opacity="0.8"/>
<circle cx="284.0" cy="92.2" r="1.6" fill="#b5457e"/>
<rect x="282.8" y="88.0" width="2.4" height="0.9" fill="#555" opacity="0.8"/>
<rect x="263.1" y="100.9" width="2.6" height="1.3" fill="#2a2a2a"/><rect x="263.8" y="100.2" width="1.2" height="2.6" fill="#2a2a2a"/>
<rect x="263.2" y="97.3" width="2.4" height="0.9" fill="#555" opacity="0.8"/>
<rect x="159.6" y="152.6" width="2.6" height="1.3" fill="#2a2a2a"/><rect x="160.3" y="151.9" width="1.2" height="2.6" fill="#2a2a2a"/>
<rect x="159.7" y="149.0" width="2.4" height="0.9" fill="#555" opacity="0.8"/>
<circle cx="183.9" cy="153.5" r="1.6" fill="#8fcf9a"/>
<rect x="182.7" y="149.3" width="2.4" height="0.9" fill="#555" opacity="0.8"/>
<circle cx="213.1" cy="126.9" r="1.6" fill="#b5457e"/>
<rect x="211.9" y="122.7" width="2.4" height="0.9" fill="#555" opacity="0.8"/>
<rect x="198.9" y="135.3" width="2.6" height="1.3" fill="#2a2a2a"/><rect x="199.6" y="134.6" width="1.2" height="2.6" fill="#2a2a2a"/>
<rect x="199.0" y="131.7" width="2.4" height="0.9" fill="#555" opacity="0.8"/>
<circle cx="194.3" cy="146.5" r="1.6" fill="#b5457e"/>
<rect x="193.1" y="142.3" width="2.4" height="0.9" fill="#555" opacity="0.8"/>
<circle cx="198.0" cy="130.7" r="1.6" fill="#f3a55a"/>
<rect x="196.8" y="126.5" width="2.4" height="0.9" fill="#555" opacity="0.8"/>
<circle cx="304.5" cy="79.8" r="1.6" fill="#b5457e"/>
<rect x="303.3" y="75.6" width="2.4" height="0.9" fill="#555" opacity="0.8"/>
<rect x="304.7" y="98.9" width="2.6" height="1.3" fill="#2a2a2a"/><rect x="305.4" y="98.2" width="1.2" height="2.6" fill="#2a2a2a"/>
<rect x="304.8" y="95.3" width="2.4" height="0.9" fill="#555" opacity="0.8"/>
<circle cx="266.1" cy="101.6" r="1.6" fill="#f3a55a"/>
<rect x="264.9" y="97.4" width="2.4" height="0.9" fill="#555" opacity="0.8"/>
<rect x="229.8" y="123.4" width="2.6" height="1.3" fill="#2a2a2a"/><rect x="230.5" y="122.7" width="1.2" height="2.6" fill="#2a2a2a"/>
<rect x="229.9" y="119.8" width="2.4" height="0.9" fill="#555" opacity="0.8"/>
<circle cx="288.6" cy="78.2" r="1.6" fill="#e2622f"/>
<rect x="287.4" y="74.0" width="2.4" height="0.9" fill="#555" opacity="0.8"/>
<circle cx="247.2" cy="114.8" r="1.6" fill="#b5457e"/>
<rect x="246.0" y="110.6" width="2.4" height="0.9" fill="#555" opacity="0.8"/>
<rect x="286.4" y="106.5" width="2.6" height="1.3" fill="#2a2a2a"/><rect x="287.1" y="105.8" width="1.2" height="2.6" fill="#2a2a2a"/>
<rect x="286.5" y="102.9" width="2.4" height="0.9" fill="#555" opacity="0.8"/>
<circle cx="193.8" cy="130.1" r="1.6" fill="#e2622f"/>
<rect x="192.6" y="125.9" width="2.4" height="0.9" fill="#555" opacity="0.8"/>
<circle cx="256.3" cy="107.2" r="1.6" fill="#b5457e"/>
<rect x="255.1" y="103.0" width="2.4" height="0.9" fill="#555" opacity="0.8"/>
<circle cx="192.9" cy="144.9" r="1.6" fill="#e2622f"/>
<rect x="191.7" y="140.7" width="2.4" height="0.9" fill="#555" opacity="0.8"/>
<rect x="213.8" y="94.5" width="2.6" height="1.3" fill="#2a2a2a"/><rect x="214.5" y="93.8" width="1.2" height="2.6" fill="#2a2a2a"/>
<rect x="213.9" y="90.9" width="2.4" height="0.9" fill="#555" opacity="0.8"/>
<circle cx="192.6" cy="136.1" r="1.6" fill="#b5457e"/>
<rect x="191.4" y="131.9" width="2.4" height="0.9" fill="#555" opacity="0.8"/>
<circle cx="218.1" cy="120.2" r="1.6" fill="#f3a55a"/>
<rect x="216.9" y="116.0" width="2.4" height="0.9" fill="#555" opacity="0.8"/>
<circle cx="228.1" cy="137.9" r="1.6" fill="#e2622f"/>
<rect x="226.9" y="133.7" width="2.4" height="0.9" fill="#555" opacity="0.8"/>
<circle cx="175.5" cy="131.3" r="1.6" fill="#b5457e"/>
<rect x="174.3" y="127.1" width="2.4" height="0.9" fill="#555" opacity="0.8"/>
<rect x="239.7" y="81.4" width="2.6" height="1.3" fill="#2a2a2a"/><rect x="240.4" y="80.7" width="1.2" height="2.6" fill="#2a2a2a"/>
<rect x="239.8" y="77.8" width="2.4" height="0.9" fill="#555" opacity="0.8"/>
<rect x="190.2" y="142.3" width="2.6" height="1.3" fill="#2a2a2a"/><rect x="190.9" y="141.6" width="1.2" height="2.6" fill="#2a2a2a"/>
<rect x="190.3" y="138.7" width="2.4" height="0.9" fill="#555" opacity="0.8"/>
<circle cx="246.2" cy="117.6" r="1.6" fill="#e2622f"/>
<rect x="245.0" y="113.4" width="2.4" height="0.9" fill="#555" opacity="0.8"/>
<circle cx="228.4" cy="101.9" r="1.6" fill="#e2622f"/>
<rect x="227.2" y="97.7" width="2.4" height="0.9" fill="#555" opacity="0.8"/>
<circle cx="266.3" cy="109.4" r="1.6" fill="#b5457e"/>
<rect x="265.1" y="105.2" width="2.4" height="0.9" fill="#555" opacity="0.8"/>
<circle cx="261.3" cy="120.8" r="1.6" fill="#e2622f"/>
<rect x="260.1" y="116.6" width="2.4" height="0.9" fill="#555" opacity="0.8"/>
<circle cx="182.7" cy="159.3" r="1.6" fill="#b5457e"/>
<rect x="181.5" y="155.1" width="2.4" height="0.9" fill="#555" opacity="0.8"/>
<circle cx="275.5" cy="108.1" r="1.6" fill="#f3a55a"/>
<rect x="274.3" y="103.9" width="2.4" height="0.9" fill="#555" opacity="0.8"/>
<rect x="305.2" y="92.3" width="2.6" height="1.3" fill="#2a2a2a"/><rect x="305.9" y="91.6" width="1.2" height="2.6" fill="#2a2a2a"/>
<rect x="305.3" y="88.7" width="2.4" height="0.9" fill="#555" opacity="0.8"/>
<rect x="309.4" y="91.9" width="2.6" height="1.3" fill="#2a2a2a"/><rect x="310.1" y="91.2" width="1.2" height="2.6" fill="#2a2a2a"/>
<rect x="309.5" y="88.3" width="2.4" height="0.9" fill="#555" opacity="0.8"/>
<rect x="211.2" y="115.5" width="2.6" height="1.3" fill="#2a2a2a"/><rect x="211.9" y="114.8" width="1.2" height="2.6" fill="#2a2a2a"/>
<rect x="211.3" y="111.9" width="2.4" height="0.9" fill="#555" opacity="0.8"/>
<rect x="226.8" y="115.4" width="2.6" height="1.3" fill="#2a2a2a"/><rect x="227.5" y="114.7" width="1.2" height="2.6" fill="#2a2a2a"/>
<rect x="226.9" y="111.8" width="2.4" height="0.9" fill="#555" opacity="0.8"/>
<rect x="266.9" y="109.7" width="2.6" height="1.3" fill="#2a2a2a"/><rect x="267.6" y="109.0" width="1.2" height="2.6" fill="#2a2a2a"/>
<rect x="267.0" y="106.1" width="2.4" height="0.9" fill="#555" opacity="0.8"/>
<circle cx="180.2" cy="159.9" r="1.6" fill="#b5457e"/>
<rect x="179.0" y="155.7" width="2.4" height="0.9" fill="#555" opacity="0.8"/>
<rect x="150.8" y="108.4" width="2.6" height="1.3" fill="#2a2a2a"/><rect x="151.5" y="107.7" width="1.2" height="2.6" fill="#2a2a2a"/>
<rect x="150.9" y="104.8" width="2.4" height="0.9" fill="#555" opacity="0.8"/>
<rect x="149.7" y="124.6" width="2.6" height="1.3" fill="#2a2a2a"/><rect x="150.4" y="123.9" width="1.2" height="2.6" fill="#2a2a2a"/>
<rect x="149.8" y="121.0" width="2.4" height="0.9" fill="#555" opacity="0.8"/>
<rect x="149.8" y="136.5" width="2.6" height="1.3" fill="#2a2a2a"/><rect x="150.5" y="135.8" width="1.2" height="2.6" fill="#2a2a2a"/>
<rect x="149.9" y="132.9" width="2.4" height="0.9" fill="#555" opacity="0.8"/>
<rect x="140.0" y="151.6" width="2.6" height="1.3" fill="#2a2a2a"/><rect x="140.7" y="150.9" width="1.2" height="2.6" fill="#2a2a2a"/>
<rect x="140.1" y="148.0" width="2.4" height="0.9" fill="#555" opacity="0.8"/>
<rect x="144.2" y="157.6" width="2.6" height="1.3" fill="#2a2a2a"/><rect x="144.9" y="156.9" width="1.2" height="2.6" fill="#2a2a2a"/>
<rect x="144.3" y="154.0" width="2.4" height="0.9" fill="#555" opacity="0.8"/>
<rect x="166.0" y="116.2" width="2.6" height="1.3" fill="#2a2a2a"/><rect x="166.7" y="115.5" width="1.2" height="2.6" fill="#2a2a2a"/>
<rect x="166.1" y="112.6" width="2.4" height="0.9" fill="#555" opacity="0.8"/>
<rect x="167.9" y="127.5" width="2.6" height="1.3" fill="#2a2a2a"/><rect x="168.6" y="126.8" width="1.2" height="2.6" fill="#2a2a2a"/>
<rect x="168.0" y="123.9" width="2.4" height="0.9" fill="#555" opacity="0.8"/>
<rect x="168.9" y="139.8" width="2.6" height="1.3" fill="#2a2a2a"/><rect x="169.6" y="139.1" width="1.2" height="2.6" fill="#2a2a2a"/>
<rect x="169.0" y="136.2" width="2.4" height="0.9" fill="#555" opacity="0.8"/>
<rect x="165.4" y="166.4" width="2.6" height="1.3" fill="#2a2a2a"/><rect x="166.1" y="165.7" width="1.2" height="2.6" fill="#2a2a2a"/>
<rect x="165.5" y="162.8" width="2.4" height="0.9" fill="#555" opacity="0.8"/>
<rect x="155.9" y="146.8" width="2.6" height="1.3" fill="#2a2a2a"/><rect x="156.6" y="146.1" width="1.2" height="2.6" fill="#2a2a2a"/>
<rect x="156.0" y="143.2" width="2.4" height="0.9" fill="#555" opacity="0.8"/>
<rect x="148.7" y="146.2" width="2.6" height="1.3" fill="#2a2a2a"/><rect x="149.4" y="145.5" width="1.2" height="2.6" fill="#2a2a2a"/>
<rect x="148.8" y="142.6" width="2.4" height="0.9" fill="#555" opacity="0.8"/>
<rect x="203.5" y="83.3" width="2.6" height="1.3" fill="#2a2a2a"/><rect x="204.2" y="82.6" width="1.2" height="2.6" fill="#2a2a2a"/>
<rect x="203.6" y="79.7" width="2.4" height="0.9" fill="#555" opacity="0.8"/>
<rect x="203.4" y="94.9" width="2.6" height="1.3" fill="#2a2a2a"/><rect x="204.1" y="94.2" width="1.2" height="2.6" fill="#2a2a2a"/>
<rect x="203.5" y="91.3" width="2.4" height="0.9" fill="#555" opacity="0.8"/>
<rect x="204.4" y="105.4" width="2.6" height="1.3" fill="#2a2a2a"/><rect x="205.1" y="104.7" width="1.2" height="2.6" fill="#2a2a2a"/>
<rect x="204.5" y="101.8" width="2.4" height="0.9" fill="#555" opacity="0.8"/>
<rect x="205.1" y="115.1" width="2.6" height="1.3" fill="#2a2a2a"/><rect x="205.8" y="114.4" width="1.2" height="2.6" fill="#2a2a2a"/>
<rect x="205.2" y="111.5" width="2.4" height="0.9" fill="#555" opacity="0.8"/>
<rect x="209.2" y="82.8" width="2.6" height="1.3" fill="#2a2a2a"/><rect x="209.9" y="82.1" width="1.2" height="2.6" fill="#2a2a2a"/>
<rect x="209.3" y="79.2" width="2.4" height="0.9" fill="#555" opacity="0.8"/>
<rect x="193.9" y="97.7" width="2.6" height="1.3" fill="#2a2a2a"/><rect x="194.6" y="97.0" width="1.2" height="2.6" fill="#2a2a2a"/>
<rect x="194.0" y="94.1" width="2.4" height="0.9" fill="#555" opacity="0.8"/>
<rect x="176.2" y="125.4" width="2.6" height="1.3" fill="#2a2a2a"/><rect x="176.9" y="124.7" width="1.2" height="2.6" fill="#2a2a2a"/>
<rect x="176.3" y="121.8" width="2.4" height="0.9" fill="#555" opacity="0.8"/>
<rect x="287.9" y="110.7" width="2.6" height="1.3" fill="#2a2a2a"/><rect x="288.6" y="110.0" width="1.2" height="2.6" fill="#2a2a2a"/>
<rect x="288.0" y="107.1" width="2.4" height="0.9" fill="#555" opacity="0.8"/>
<rect x="560.0" y="124.0" width="2.6" height="1.3" fill="#2a2a2a"/><rect x="560.7" y="123.3" width="1.2" height="2.6" fill="#2a2a2a"/>
<rect x="560.1" y="120.4" width="2.4" height="0.9" fill="#555" opacity="0.8"/>
<rect x="560.0" y="133.4" width="2.6" height="1.3" fill="#2a2a2a"/><rect x="560.7" y="132.7" width="1.2" height="2.6" fill="#2a2a2a"/>
<rect x="560.1" y="129.8" width="2.4" height="0.9" fill="#555" opacity="0.8"/>
<rect x="557.8" y="141.3" width="2.6" height="1.3" fill="#2a2a2a"/><rect x="558.5" y="140.6" width="1.2" height="2.6" fill="#2a2a2a"/>
<rect x="557.9" y="137.7" width="2.4" height="0.9" fill="#555" opacity="0.8"/>
<rect x="584.5" y="120.2" width="2.6" height="1.3" fill="#2a2a2a"/><rect x="585.2" y="119.5" width="1.2" height="2.6" fill="#2a2a2a"/>
<rect x="584.6" y="116.6" width="2.4" height="0.9" fill="#555" opacity="0.8"/>
<rect x="578.0" y="152.3" width="2.6" height="1.3" fill="#2a2a2a"/><rect x="578.7" y="151.6" width="1.2" height="2.6" fill="#2a2a2a"/>
<rect x="578.1" y="148.7" width="2.4" height="0.9" fill="#555" opacity="0.8"/>
<rect x="581.4" y="165.2" width="2.6" height="1.3" fill="#2a2a2a"/><rect x="582.1" y="164.5" width="1.2" height="2.6" fill="#2a2a2a"/>
<rect x="581.5" y="161.6" width="2.4" height="0.9" fill="#555" opacity="0.8"/>
<rect x="588.7" y="151.0" width="2.6" height="1.3" fill="#2a2a2a"/><rect x="589.4" y="150.3" width="1.2" height="2.6" fill="#2a2a2a"/>
<rect x="588.8" y="147.4" width="2.4" height="0.9" fill="#555" opacity="0.8"/>
<rect x="627.7" y="135.3" width="2.6" height="1.3" fill="#2a2a2a"/><rect x="628.4" y="134.6" width="1.2" height="2.6" fill="#2a2a2a"/>
<rect x="627.8" y="131.7" width="2.4" height="0.9" fill="#555" opacity="0.8"/>
<rect x="626.4" y="145.9" width="2.6" height="1.3" fill="#2a2a2a"/><rect x="627.1" y="145.2" width="1.2" height="2.6" fill="#2a2a2a"/>
<rect x="626.5" y="142.3" width="2.4" height="0.9" fill="#555" opacity="0.8"/>
<rect x="629.0" y="166.8" width="2.6" height="1.3" fill="#2a2a2a"/><rect x="629.7" y="166.1" width="1.2" height="2.6" fill="#2a2a2a"/>
<rect x="629.1" y="163.2" width="2.4" height="0.9" fill="#555" opacity="0.8"/>
<rect x="623.5" y="180.5" width="2.6" height="1.3" fill="#2a2a2a"/><rect x="624.2" y="179.8" width="1.2" height="2.6" fill="#2a2a2a"/>
<rect x="623.6" y="176.9" width="2.4" height="0.9" fill="#555" opacity="0.8"/>
<rect x="612.9" y="173.4" width="2.6" height="1.3" fill="#2a2a2a"/><rect x="613.6" y="172.7" width="1.2" height="2.6" fill="#2a2a2a"/>
<rect x="613.0" y="169.8" width="2.4" height="0.9" fill="#555" opacity="0.8"/>
<rect x="617.2" y="159.5" width="2.6" height="1.3" fill="#2a2a2a"/><rect x="617.9" y="158.8" width="1.2" height="2.6" fill="#2a2a2a"/>
<rect x="617.3" y="155.9" width="2.4" height="0.9" fill="#555" opacity="0.8"/>
<rect x="616.7" y="138.1" width="2.6" height="1.3" fill="#2a2a2a"/><rect x="617.4" y="137.4" width="1.2" height="2.6" fill="#2a2a2a"/>
<rect x="616.8" y="134.5" width="2.4" height="0.9" fill="#555" opacity="0.8"/>
<rect x="711.5" y="106.2" width="2.6" height="1.3" fill="#2a2a2a"/><rect x="712.2" y="105.5" width="1.2" height="2.6" fill="#2a2a2a"/>
<rect x="711.6" y="102.6" width="2.4" height="0.9" fill="#555" opacity="0.8"/>
<rect x="707.1" y="115.3" width="2.6" height="1.3" fill="#2a2a2a"/><rect x="707.8" y="114.6" width="1.2" height="2.6" fill="#2a2a2a"/>
<rect x="707.2" y="111.7" width="2.4" height="0.9" fill="#555" opacity="0.8"/>
<rect x="720.9" y="98.6" width="2.6" height="1.3" fill="#2a2a2a"/><rect x="721.6" y="97.9" width="1.2" height="2.6" fill="#2a2a2a"/>
<rect x="721.0" y="95.0" width="2.4" height="0.9" fill="#555" opacity="0.8"/>
<rect x="840.1" y="128.0" width="2.6" height="1.3" fill="#2a2a2a"/><rect x="840.8" y="127.3" width="1.2" height="2.6" fill="#2a2a2a"/>
<rect x="840.2" y="124.4" width="2.4" height="0.9" fill="#555" opacity="0.8"/>
<rect x="840.9" y="106.8" width="2.6" height="1.3" fill="#2a2a2a"/><rect x="841.6" y="106.1" width="1.2" height="2.6" fill="#2a2a2a"/>
<rect x="841.0" y="103.2" width="2.4" height="0.9" fill="#555" opacity="0.8"/>
<rect x="877.2" y="111.3" width="2.6" height="1.3" fill="#2a2a2a"/><rect x="877.9" y="110.6" width="1.2" height="2.6" fill="#2a2a2a"/>
<rect x="877.3" y="107.7" width="2.4" height="0.9" fill="#555" opacity="0.8"/>
<rect x="868.3" y="124.6" width="2.6" height="1.3" fill="#2a2a2a"/><rect x="869.0" y="123.9" width="1.2" height="2.6" fill="#2a2a2a"/>
<rect x="868.4" y="121.0" width="2.4" height="0.9" fill="#555" opacity="0.8"/>
<rect x="868.8" y="134.5" width="2.6" height="1.3" fill="#2a2a2a"/><rect x="869.5" y="133.8" width="1.2" height="2.6" fill="#2a2a2a"/>
<rect x="868.9" y="130.9" width="2.4" height="0.9" fill="#555" opacity="0.8"/>
<rect x="859.6" y="137.3" width="2.6" height="1.3" fill="#2a2a2a"/><rect x="860.3" y="136.6" width="1.2" height="2.6" fill="#2a2a2a"/>
<rect x="859.7" y="133.7" width="2.4" height="0.9" fill="#555" opacity="0.8"/>
<rect x="852.8" y="138.3" width="2.6" height="1.3" fill="#2a2a2a"/><rect x="853.5" y="137.6" width="1.2" height="2.6" fill="#2a2a2a"/>
<rect x="852.9" y="134.7" width="2.4" height="0.9" fill="#555" opacity="0.8"/>
<rect x="869.4" y="132.9" width="2.6" height="1.3" fill="#2a2a2a"/><rect x="870.1" y="132.2" width="1.2" height="2.6" fill="#2a2a2a"/>
<rect x="869.5" y="129.3" width="2.4" height="0.9" fill="#555" opacity="0.8"/>
<rect x="860.0" y="153.2" width="2.6" height="1.3" fill="#2a2a2a"/><rect x="860.7" y="152.5" width="1.2" height="2.6" fill="#2a2a2a"/>
<rect x="860.1" y="149.6" width="2.4" height="0.9" fill="#555" opacity="0.8"/>
<rect x="871.3" y="158.0" width="2.6" height="1.3" fill="#2a2a2a"/><rect x="872.0" y="157.3" width="1.2" height="2.6" fill="#2a2a2a"/>
<rect x="871.4" y="154.4" width="2.4" height="0.9" fill="#555" opacity="0.8"/>
<rect x="867.6" y="166.8" width="2.6" height="1.3" fill="#2a2a2a"/><rect x="868.3" y="166.1" width="1.2" height="2.6" fill="#2a2a2a"/>
<rect x="867.7" y="163.2" width="2.4" height="0.9" fill="#555" opacity="0.8"/>
<rect x="930.1" y="101.4" width="2.6" height="1.3" fill="#2a2a2a"/><rect x="930.8" y="100.7" width="1.2" height="2.6" fill="#2a2a2a"/>
<rect x="930.2" y="97.8" width="2.4" height="0.9" fill="#555" opacity="0.8"/>
<rect x="936.6" y="102.7" width="2.6" height="1.3" fill="#2a2a2a"/><rect x="937.3" y="102.0" width="1.2" height="2.6" fill="#2a2a2a"/>
<rect x="936.7" y="99.1" width="2.4" height="0.9" fill="#555" opacity="0.8"/>
<rect x="170.5" y="148.6" width="2.6" height="1.3" fill="#2a2a2a"/><rect x="171.2" y="147.9" width="1.2" height="2.6" fill="#2a2a2a"/>
<rect x="170.6" y="145.0" width="2.4" height="0.9" fill="#555" opacity="0.8"/>
<rect x="159.0" y="158.8" width="2.6" height="1.3" fill="#2a2a2a"/><rect x="159.7" y="158.1" width="1.2" height="2.6" fill="#2a2a2a"/>
<rect x="159.1" y="155.2" width="2.4" height="0.9" fill="#555" opacity="0.8"/>
<path d="M62,76.3 C63.77,76.48 67.90,77.20 72.6,77.4 C77.30,77.60 85.32,77.43 90.2,77.5 C95.08,77.57 98.38,77.60 101.9,77.8 C105.42,78.00 107.60,78.82 111.3,78.7 C115.00,78.58 119.82,77.18 124.1,77.1 C128.38,77.02 132.70,78.23 137,78.2 C141.30,78.17 145.60,76.90 149.9,76.9 C154.20,76.90 158.62,78.08 162.8,78.2 C166.98,78.32 170.87,77.88 175,77.6 C179.13,77.32 181.60,76.77 187.6,76.5 C193.60,76.23 205.15,76.00 211,76 C216.85,76.00 217.82,76.22 222.7,76.5 C227.58,76.78 235.42,77.60 240.3,77.7 C245.18,77.80 248.08,77.45 252,77.1 C255.92,76.75 259.88,75.65 263.8,75.6 C267.72,75.55 271.13,76.58 275.5,76.8 C279.87,77.02 284.52,76.80 290,76.9 C295.48,77.00 301.82,77.10 308.4,77.4 C314.98,77.70 322.47,78.68 329.5,78.7 C336.53,78.72 342.38,77.60 350.6,77.5 C358.82,77.40 370.57,77.97 378.8,78.1 C387.03,78.23 394.52,78.37 400,78.3 C405.48,78.23 406.82,77.57 411.7,77.7 C416.58,77.83 421.48,79.05 429.3,79.1 C437.12,79.15 448.83,78.05 458.6,78 C468.37,77.95 480.08,78.45 487.9,78.8 C495.72,79.15 500.15,79.72 505.5,80.1 C510.85,80.48 515.48,80.85 520,81.1 C524.52,81.35 527.18,81.38 532.6,81.6 C538.02,81.82 545.67,82.70 552.5,82.4 C559.33,82.10 566.18,80.62 573.6,79.8 C581.02,78.98 589.18,78.38 597,77.5 C604.82,76.62 614.63,75.18 620.5,74.5 C626.37,73.82 628.67,73.52 632.2,73.4 C635.73,73.28 637.57,73.95 641.7,73.8 C645.83,73.65 652.70,72.63 657,72.5 C661.30,72.37 663.60,73.17 667.5,73.0 C671.40,72.83 675.72,71.60 680.4,71.5 C685.08,71.40 690.33,72.13 695.6,72.4 C700.87,72.67 706.33,72.72 712,73.1 C717.67,73.48 724.10,74.45 729.6,74.7 C735.10,74.95 738.53,74.47 745,74.6 C751.47,74.73 761.57,75.55 768.4,75.5 C775.23,75.45 780.13,74.60 786,74.3 C791.87,74.00 798.32,73.50 803.6,73.7 C808.88,73.90 813.02,75.50 817.7,75.5 C822.38,75.50 827.22,73.70 831.7,73.7 C836.18,73.70 839.88,75.17 844.6,75.5 C849.32,75.83 853.92,75.77 860,75.7 C866.08,75.63 874.27,74.95 881.1,75.1 C887.93,75.25 894.75,76.45 901,76.6 C907.25,76.75 911.77,75.93 918.6,76 C925.43,76.07 934.18,76.70 942,77 C949.82,77.30 959.17,77.77 965.5,77.8 C971.83,77.83 977.58,77.30 980,77.2" fill="none" stroke="#3d3d30" stroke-width="3" stroke-linejoin="round" stroke-linecap="round"/>
<rect x="928" y="69.9" width="35.1" height="1.9" fill="#4a4a40"/>
<rect x="936.8" y="70.35" width="8.8" height="1.0" fill="#f4f4f4"/>
<rect x="954.4" y="70.35" width="8.3" height="1.0" fill="#f4f4f4"/>
<text x="926.8" y="68" font-size="4" fill="#555" font-family="Liberation Sans">0</text>
<text x="957.3" y="68" font-size="4" fill="#555" font-family="Liberation Sans" textLength="10.5">100m</text>
<line x1="80" y1="243.6" x2="452.7" y2="243.6" stroke="#1b1b1b" stroke-width="2.6"/>
<path d="M67.6,243.6 L90,236.3 L84.5,243.6 L90,250.6 Z" fill="#1b1b1b"/>
<line x1="556.9" y1="243.6" x2="964" y2="243.6" stroke="#1b1b1b" stroke-width="2.6"/>
<path d="M977,243.6 L955,237.2 L960.5,243.6 L955,250.2 Z" fill="#1b1b1b"/>
<rect x="70.7" y="258.2" width="222" height="20" fill="#673a26"/>
<rect x="296.5" y="258.2" width="221.4" height="20" fill="#673a26"/>
<rect x="521.3" y="258.2" width="221.3" height="20" fill="#2b4150"/>
<rect x="746.4" y="258.2" width="220.9" height="20" fill="#474c56"/>
</svg>
<div class="t" style="left:263.00px;top:8.12px;font-size:34px;line-height:34px;color:#1b1b1b;font-weight:bold;letter-spacing:0px;transform:scaleX(0.8379403794037942);transform-origin:left top;-webkit-text-stroke:0.6px #1b1b1b;">APPLETON</div>
<div class="t" style="left:431.60px;top:8.12px;font-size:34px;line-height:34px;color:#1b1b1b;font-weight:bold;letter-spacing:0px;transform:scaleX(0.8766355140186911);transform-origin:left top;-webkit-text-stroke:0.6px #1b1b1b;">FAULT</div>
<div class="t" style="left:534.80px;top:8.12px;font-size:34px;line-height:34px;color:#1b1b1b;font-weight:bold;letter-spacing:0px;transform:scaleX(0.8427739544732665);transform-origin:left top;-webkit-text-stroke:0.6px #1b1b1b;">ZONE</div>
<div class="t" style="left:626.30px;top:8.12px;font-size:34px;line-height:34px;color:#1b1b1b;font-weight:bold;letter-spacing:0px;transform:scaleX(0.8287412209616428);transform-origin:left top;-webkit-text-stroke:0.6px #1b1b1b;">CORRIDOR</div>
<div class="t" style="left:181.60px;top:49.88px;font-size:19.4px;line-height:19.4px;color:#1b1b1b;font-weight:bold;letter-spacing:0px;transform:scaleX(0.8164852255054432);transform-origin:left top;-webkit-text-stroke:0.4px #1b1b1b;">KEATS</div>
<div class="t" style="left:325.70px;top:49.88px;font-size:19.4px;line-height:19.4px;color:#1b1b1b;font-weight:bold;letter-spacing:0px;transform:scaleX(0.7900466562986003);transform-origin:left top;-webkit-text-stroke:0.4px #1b1b1b;">KEATS</div>
<div class="t" style="left:384.10px;top:49.88px;font-size:19.4px;line-height:19.4px;color:#1b1b1b;font-weight:bold;letter-spacing:0px;transform:scaleX(0.8658448150833937);transform-origin:left top;-webkit-text-stroke:0.4px #1b1b1b;">NORTH</div>
<div class="t" style="left:535.50px;top:49.88px;font-size:19.4px;line-height:19.4px;color:#1b1b1b;font-weight:bold;letter-spacing:0px;transform:scaleX(0.8397590361445784);transform-origin:left top;-webkit-text-stroke:0.4px #1b1b1b;">GOLDEN</div>
<div class="t" style="left:611.80px;top:49.88px;font-size:19.4px;line-height:19.4px;color:#1b1b1b;font-weight:bold;letter-spacing:0px;transform:scaleX(0.9256342957130359);transform-origin:left top;-webkit-text-stroke:0.4px #1b1b1b;">JOINT</div>
<div class="t" style="left:717.40px;top:49.88px;font-size:19.4px;line-height:19.4px;color:#1b1b1b;font-weight:bold;letter-spacing:0px;transform:scaleX(0.8281786941580757);transform-origin:left top;-webkit-text-stroke:0.4px #1b1b1b;">DOME</div>
<div class="t" style="left:855.20px;top:49.88px;font-size:19.4px;line-height:19.4px;color:#1b1b1b;font-weight:bold;letter-spacing:0px;transform:scaleX(0.8807339449541284);transform-origin:left top;-webkit-text-stroke:0.4px #1b1b1b;">LOTTO</div>
<div class="t" style="left:96.90px;top:227.17px;font-size:14.8px;line-height:14.8px;color:#1b1b1b;font-weight:bold;letter-spacing:0px;transform:scaleX(0.8653158522050058);transform-origin:left top;-webkit-text-stroke:0.3px #1b1b1b;">OPEN</div>
<div class="t" style="left:913.60px;top:227.17px;font-size:14.8px;line-height:14.8px;color:#1b1b1b;font-weight:bold;letter-spacing:0px;transform:scaleX(0.8629320619785459);transform-origin:left top;-webkit-text-stroke:0.3px #1b1b1b;">OPEN</div>
<div class="t" style="left:463.00px;top:226.24px;font-size:28.3px;line-height:28.3px;color:#181818;font-weight:bold;letter-spacing:0px;transform:scaleX(0.9460317460317446);transform-origin:left top;-webkit-text-stroke:1px #181818;">2</div>
<div class="t" style="left:486.50px;top:226.24px;font-size:28.3px;line-height:28.3px;color:#181818;font-weight:bold;letter-spacing:0px;transform:scaleX(0.990476190476192);transform-origin:left top;-webkit-text-stroke:1px #181818;">6</div>
<div class="t" style="left:500.80px;top:226.24px;font-size:28.3px;line-height:28.3px;color:#181818;font-weight:bold;letter-spacing:0px;transform:scaleX(1.2341772151898698);transform-origin:left top;-webkit-text-stroke:1px #181818;">k</div>
<div class="t" style="left:519.50px;top:226.24px;font-size:28.3px;line-height:28.3px;color:#181818;font-weight:bold;letter-spacing:0px;transform:scaleX(1.1133200795228628);transform-origin:left top;-webkit-text-stroke:1px #181818;">m</div>
<svg width="1024" height="553" style="position:absolute;left:0;top:0"><circle cx="482.6" cy="247.2" r="3.0" fill="#181818"/></svg>
<div class="t" style="left:75.30px;top:260.54px;font-size:15.9px;line-height:15.9px;color:#fff;font-weight:bold;letter-spacing:0px;transform:scaleX(0.9111199681147867);transform-origin:left top;-webkit-text-stroke:0.3px #fff;">Keats Highlights</div>
<div class="t" style="left:525.80px;top:260.54px;font-size:15.9px;line-height:15.9px;color:#fff;font-weight:bold;letter-spacing:0px;transform:scaleX(0.9336307863915225);transform-origin:left top;-webkit-text-stroke:0.3px #fff;">Golden Joint Highlights</div>
<div class="t" style="left:751.20px;top:260.54px;font-size:15.9px;line-height:15.9px;color:#fff;font-weight:bold;letter-spacing:0px;transform:scaleX(0.927369716864998);transform-origin:left top;-webkit-text-stroke:0.3px #fff;">Lotto Highlights</div>
<div class="t" style="left:74.80px;top:281.86px;font-size:10.8px;line-height:10.8px;color:#744535;font-weight:bold;letter-spacing:0px;transform:scaleX(0.9634703196347033);transform-origin:left top;-webkit-text-stroke:0.15px #744535;">Hole No.</div>
<div class="t" style="right:797.99px;top:281.86px;font-size:10.8px;line-height:10.8px;color:#744535;font-weight:bold;letter-spacing:0px;transform:scaleX(0.9879725085910652);transform-origin:right top;-webkit-text-stroke:0.15px #744535;">Interval (m)</div>
<div class="t" style="right:736.21px;top:281.86px;font-size:10.8px;line-height:10.8px;color:#744535;font-weight:bold;letter-spacing:0px;transform:scaleX(1.0000000000000004);transform-origin:right top;-webkit-text-stroke:0.15px #744535;">Au  (g/t)</div>
<div class="t" style="left:300.40px;top:281.86px;font-size:10.8px;line-height:10.8px;color:#744535;font-weight:bold;letter-spacing:0px;transform:scaleX(0.9429223744292238);transform-origin:left top;-webkit-text-stroke:0.15px #744535;">Hole No.</div>
<div class="t" style="right:570.98px;top:281.86px;font-size:10.8px;line-height:10.8px;color:#744535;font-weight:bold;letter-spacing:0px;transform:scaleX(1.02233676975945);transform-origin:right top;-webkit-text-stroke:0.15px #744535;">Interval (m)</div>
<div class="t" style="right:510.31px;top:281.86px;font-size:10.8px;line-height:10.8px;color:#744535;font-weight:bold;letter-spacing:0px;transform:scaleX(1.0000000000000018);transform-origin:right top;-webkit-text-stroke:0.15px #744535;">Au (g/t)</div>
<div class="t" style="left:525.80px;top:281.86px;font-size:10.8px;line-height:10.8px;color:#394c5c;font-weight:bold;letter-spacing:0px;transform:scaleX(0.9589041095890412);transform-origin:left top;-webkit-text-stroke:0.15px #394c5c;">Hole No.</div>
<div class="t" style="right:347.09px;top:281.86px;font-size:10.8px;line-height:10.8px;color:#394c5c;font-weight:bold;letter-spacing:0px;transform:scaleX(0.9965635738831614);transform-origin:right top;-webkit-text-stroke:0.15px #394c5c;">Interval (m)</div>
<div class="t" style="right:285.81px;top:281.86px;font-size:10.8px;line-height:10.8px;color:#394c5c;font-weight:bold;letter-spacing:0px;transform:scaleX(0.9975490196078444);transform-origin:right top;-webkit-text-stroke:0.15px #394c5c;">Au  (g/t)</div>
<div class="t" style="left:750.00px;top:281.86px;font-size:10.8px;line-height:10.8px;color:#4a4e58;font-weight:bold;letter-spacing:0px;transform:scaleX(0.9589041095890412);transform-origin:left top;-webkit-text-stroke:0.15px #4a4e58;">Hole No.</div>
<div class="t" style="right:122.09px;top:281.86px;font-size:10.8px;line-height:10.8px;color:#4a4e58;font-weight:bold;letter-spacing:0px;transform:scaleX(0.9965635738831614);transform-origin:right top;-webkit-text-stroke:0.15px #4a4e58;">Interval (m)</div>
<div class="t" style="right:60.81px;top:281.86px;font-size:10.8px;line-height:10.8px;color:#4a4e58;font-weight:bold;letter-spacing:0px;transform:scaleX(0.9975490196078444);transform-origin:right top;-webkit-text-stroke:0.15px #4a4e58;">Au  (g/t)</div>
<div class="t" style="left:73.50px;top:297.20px;font-size:14.3px;line-height:14.3px;color:#1b1b1b;font-weight:bold;letter-spacing:1.1334074074074074px;transform:scaleX(0.8307692307692308);transform-origin:left top;-webkit-text-stroke:0.25px #1b1b1b;">NFGC-19-01</div>
<div class="t" style="right:794.98px;top:297.20px;font-size:14.3px;line-height:14.3px;color:#1b1b1b;font-weight:bold;letter-spacing:1.8325185185185184px;transform:scaleX(0.8307692307692308);transform-origin:right top;-webkit-text-stroke:0.25px #1b1b1b;">19.0</div>
<div class="t" style="right:733.68px;top:297.20px;font-size:14.3px;line-height:14.3px;color:#1b1b1b;font-weight:bold;letter-spacing:1.8325185185185184px;transform:scaleX(0.8307692307692308);transform-origin:right top;-webkit-text-stroke:0.25px #1b1b1b;">92.9</div>
<div class="t" style="left:73.50px;top:313.73px;font-size:14.3px;line-height:14.3px;color:#1b1b1b;font-weight:bold;letter-spacing:1.1334074074074074px;transform:scaleX(0.8307692307692308);transform-origin:left top;-webkit-text-stroke:0.25px #1b1b1b;">NFGC-20-19</div>
<div class="t" style="right:794.98px;top:313.73px;font-size:14.3px;line-height:14.3px;color:#1b1b1b;font-weight:bold;letter-spacing:1.8325185185185184px;transform:scaleX(0.8307692307692308);transform-origin:right top;-webkit-text-stroke:0.25px #1b1b1b;">18.9</div>
<div class="t" style="right:733.68px;top:313.73px;font-size:14.3px;line-height:14.3px;color:#1b1b1b;font-weight:bold;letter-spacing:1.8325185185185184px;transform:scaleX(0.8307692307692308);transform-origin:right top;-webkit-text-stroke:0.25px #1b1b1b;">31.2</div>
<div class="t" style="left:73.50px;top:330.26px;font-size:14.3px;line-height:14.3px;color:#1b1b1b;font-weight:bold;letter-spacing:1.1334074074074074px;transform:scaleX(0.8307692307692308);transform-origin:left top;-webkit-text-stroke:0.25px #1b1b1b;">NFGC-20-23</div>
<div class="t" style="right:794.98px;top:330.26px;font-size:14.3px;line-height:14.3px;color:#1b1b1b;font-weight:bold;letter-spacing:1.8325185185185184px;transform:scaleX(0.8307692307692308);transform-origin:right top;-webkit-text-stroke:0.25px #1b1b1b;">41.4</div>
<div class="t" style="right:733.68px;top:330.26px;font-size:14.3px;line-height:14.3px;color:#1b1b1b;font-weight:bold;letter-spacing:1.8325185185185184px;transform:scaleX(0.8307692307692308);transform-origin:right top;-webkit-text-stroke:0.25px #1b1b1b;">22.3</div>
<div class="t" style="left:73.50px;top:346.79px;font-size:14.3px;line-height:14.3px;color:#1b1b1b;font-weight:bold;letter-spacing:1.1334074074074074px;transform:scaleX(0.8307692307692308);transform-origin:left top;-webkit-text-stroke:0.25px #1b1b1b;">NFGC-20-29</div>
<div class="t" style="right:794.98px;top:346.79px;font-size:14.3px;line-height:14.3px;color:#1b1b1b;font-weight:bold;letter-spacing:1.8325185185185184px;transform:scaleX(0.8307692307692308);transform-origin:right top;-webkit-text-stroke:0.25px #1b1b1b;">16.9</div>
<div class="t" style="right:733.68px;top:346.79px;font-size:14.3px;line-height:14.3px;color:#1b1b1b;font-weight:bold;letter-spacing:1.8325185185185184px;transform:scaleX(0.8307692307692308);transform-origin:right top;-webkit-text-stroke:0.25px #1b1b1b;">25.0</div>
<div class="t" style="left:73.50px;top:363.32px;font-size:14.3px;line-height:14.3px;color:#1b1b1b;font-weight:bold;letter-spacing:1.1334074074074074px;transform:scaleX(0.8307692307692308);transform-origin:left top;-webkit-text-stroke:0.25px #1b1b1b;">NFGC-20-32</div>
<div class="t" style="right:794.98px;top:363.32px;font-size:14.3px;line-height:14.3px;color:#1b1b1b;font-weight:bold;letter-spacing:1.8325185185185184px;transform:scaleX(0.8307692307692308);transform-origin:right top;-webkit-text-stroke:0.25px #1b1b1b;">13.1</div>
<div class="t" style="right:733.68px;top:363.32px;font-size:14.3px;line-height:14.3px;color:#1b1b1b;font-weight:bold;letter-spacing:1.8325185185185184px;transform:scaleX(0.8307692307692308);transform-origin:right top;-webkit-text-stroke:0.25px #1b1b1b;">45.3</div>
<div class="t" style="left:73.50px;top:379.85px;font-size:14.3px;line-height:14.3px;color:#1b1b1b;font-weight:bold;letter-spacing:1.1334074074074074px;transform:scaleX(0.8307692307692308);transform-origin:left top;-webkit-text-stroke:0.25px #1b1b1b;">NFGC-20-41</div>
<div class="t" style="right:794.98px;top:379.85px;font-size:14.3px;line-height:14.3px;color:#1b1b1b;font-weight:bold;letter-spacing:1.8325185185185184px;transform:scaleX(0.8307692307692308);transform-origin:right top;-webkit-text-stroke:0.25px #1b1b1b;">10.4</div>
<div class="t" style="right:733.68px;top:379.85px;font-size:14.3px;line-height:14.3px;color:#1b1b1b;font-weight:bold;letter-spacing:1.8325185185185184px;transform:scaleX(0.8307692307692308);transform-origin:right top;-webkit-text-stroke:0.25px #1b1b1b;">22.5</div>
<div class="t" style="left:86.00px;top:396.38px;font-size:14.3px;line-height:14.3px;color:#1b1b1b;font-weight:bold;letter-spacing:1.1334074074074074px;transform:scaleX(0.8307692307692308);transform-origin:left top;-webkit-text-stroke:0.25px #1b1b1b;">And</div>
<div class="t" style="right:794.98px;top:396.38px;font-size:14.3px;line-height:14.3px;color:#1b1b1b;font-weight:bold;letter-spacing:1.8325185185185184px;transform:scaleX(0.8307692307692308);transform-origin:right top;-webkit-text-stroke:0.25px #1b1b1b;">15.9</div>
<div class="t" style="right:733.68px;top:396.38px;font-size:14.3px;line-height:14.3px;color:#1b1b1b;font-weight:bold;letter-spacing:1.8325185185185184px;transform:scaleX(0.8307692307692308);transform-origin:right top;-webkit-text-stroke:0.25px #1b1b1b;">31.4</div>
<div class="t" style="left:73.50px;top:412.91px;font-size:14.3px;line-height:14.3px;color:#1b1b1b;font-weight:bold;letter-spacing:1.1334074074074074px;transform:scaleX(0.8307692307692308);transform-origin:left top;-webkit-text-stroke:0.25px #1b1b1b;">NFGC-20-52</div>
<div class="t" style="right:794.98px;top:412.91px;font-size:14.3px;line-height:14.3px;color:#1b1b1b;font-weight:bold;letter-spacing:1.8325185185185184px;transform:scaleX(0.8307692307692308);transform-origin:right top;-webkit-text-stroke:0.25px #1b1b1b;">2.1</div>
<div class="t" style="right:733.68px;top:412.91px;font-size:14.3px;line-height:14.3px;color:#1b1b1b;font-weight:bold;letter-spacing:1.8325185185185184px;transform:scaleX(0.8307692307692308);transform-origin:right top;-webkit-text-stroke:0.25px #1b1b1b;">136.7</div>
<div class="t" style="left:86.00px;top:429.44px;font-size:14.3px;line-height:14.3px;color:#1b1b1b;font-weight:bold;letter-spacing:1.1334074074074074px;transform:scaleX(0.8307692307692308);transform-origin:left top;-webkit-text-stroke:0.25px #1b1b1b;">And</div>
<div class="t" style="right:794.98px;top:429.44px;font-size:14.3px;line-height:14.3px;color:#1b1b1b;font-weight:bold;letter-spacing:1.8325185185185184px;transform:scaleX(0.8307692307692308);transform-origin:right top;-webkit-text-stroke:0.25px #1b1b1b;">14.1</div>
<div class="t" style="right:733.68px;top:429.44px;font-size:14.3px;line-height:14.3px;color:#1b1b1b;font-weight:bold;letter-spacing:1.8325185185185184px;transform:scaleX(0.8307692307692308);transform-origin:right top;-webkit-text-stroke:0.25px #1b1b1b;">31.5</div>
<div class="t" style="left:86.00px;top:445.97px;font-size:14.3px;line-height:14.3px;color:#1b1b1b;font-weight:bold;letter-spacing:1.1334074074074074px;transform:scaleX(0.8307692307692308);transform-origin:left top;-webkit-text-stroke:0.25px #1b1b1b;">And</div>
<div class="t" style="right:794.98px;top:445.97px;font-size:14.3px;line-height:14.3px;color:#1b1b1b;font-weight:bold;letter-spacing:1.8325185185185184px;transform:scaleX(0.8307692307692308);transform-origin:right top;-webkit-text-stroke:0.25px #1b1b1b;">5.6</div>
<div class="t" style="right:733.68px;top:445.97px;font-size:14.3px;line-height:14.3px;color:#1b1b1b;font-weight:bold;letter-spacing:1.8325185185185184px;transform:scaleX(0.8307692307692308);transform-origin:right top;-webkit-text-stroke:0.25px #1b1b1b;">13.7</div>
<div class="t" style="left:73.50px;top:462.50px;font-size:14.3px;line-height:14.3px;color:#1b1b1b;font-weight:bold;letter-spacing:1.1334074074074074px;transform:scaleX(0.8307692307692308);transform-origin:left top;-webkit-text-stroke:0.25px #1b1b1b;">NFGC-20-59</div>
<div class="t" style="right:794.98px;top:462.50px;font-size:14.3px;line-height:14.3px;color:#1b1b1b;font-weight:bold;letter-spacing:1.8325185185185184px;transform:scaleX(0.8307692307692308);transform-origin:right top;-webkit-text-stroke:0.25px #1b1b1b;">4.7</div>
<div class="t" style="right:733.68px;top:462.50px;font-size:14.3px;line-height:14.3px;color:#1b1b1b;font-weight:bold;letter-spacing:1.8325185185185184px;transform:scaleX(0.8307692307692308);transform-origin:right top;-webkit-text-stroke:0.25px #1b1b1b;">131.1</div>
<div class="t" style="left:86.00px;top:479.03px;font-size:14.3px;line-height:14.3px;color:#1b1b1b;font-weight:bold;letter-spacing:1.1334074074074074px;transform:scaleX(0.8307692307692308);transform-origin:left top;-webkit-text-stroke:0.25px #1b1b1b;">And</div>
<div class="t" style="right:794.98px;top:479.03px;font-size:14.3px;line-height:14.3px;color:#1b1b1b;font-weight:bold;letter-spacing:1.8325185185185184px;transform:scaleX(0.8307692307692308);transform-origin:right top;-webkit-text-stroke:0.25px #1b1b1b;">17.7</div>
<div class="t" style="right:733.68px;top:479.03px;font-size:14.3px;line-height:14.3px;color:#1b1b1b;font-weight:bold;letter-spacing:1.8325185185185184px;transform:scaleX(0.8307692307692308);transform-origin:right top;-webkit-text-stroke:0.25px #1b1b1b;">124.4</div>
<div class="t" style="left:298.90px;top:297.30px;font-size:14.3px;line-height:14.3px;color:#1b1b1b;font-weight:bold;letter-spacing:1.1334074074074074px;transform:scaleX(0.8307692307692308);transform-origin:left top;-webkit-text-stroke:0.25px #1b1b1b;">NFGC-21-80</div>
<div class="t" style="right:569.68px;top:297.30px;font-size:14.3px;line-height:14.3px;color:#1b1b1b;font-weight:bold;letter-spacing:1.8325185185185184px;transform:scaleX(0.8307692307692308);transform-origin:right top;-webkit-text-stroke:0.25px #1b1b1b;">39.1</div>
<div class="t" style="right:508.78px;top:297.30px;font-size:14.3px;line-height:14.3px;color:#1b1b1b;font-weight:bold;letter-spacing:1.8325185185185184px;transform:scaleX(0.8307692307692308);transform-origin:right top;-webkit-text-stroke:0.25px #1b1b1b;">25.8</div>
<div class="t" style="left:311.30px;top:313.72px;font-size:14.3px;line-height:14.3px;color:#1b1b1b;font-weight:bold;letter-spacing:1.1334074074074074px;transform:scaleX(0.8307692307692308);transform-origin:left top;-webkit-text-stroke:0.25px #1b1b1b;">And</div>
<div class="t" style="right:569.68px;top:313.72px;font-size:14.3px;line-height:14.3px;color:#1b1b1b;font-weight:bold;letter-spacing:1.8325185185185184px;transform:scaleX(0.8307692307692308);transform-origin:right top;-webkit-text-stroke:0.25px #1b1b1b;">2.3</div>
<div class="t" style="right:508.78px;top:313.72px;font-size:14.3px;line-height:14.3px;color:#1b1b1b;font-weight:bold;letter-spacing:1.8325185185185184px;transform:scaleX(0.8307692307692308);transform-origin:right top;-webkit-text-stroke:0.25px #1b1b1b;">41.6</div>
<div class="t" style="left:298.90px;top:330.14px;font-size:14.3px;line-height:14.3px;color:#1b1b1b;font-weight:bold;letter-spacing:1.1334074074074074px;transform:scaleX(0.8307692307692308);transform-origin:left top;-webkit-text-stroke:0.25px #1b1b1b;">NFGC-21-104</div>
<div class="t" style="right:569.68px;top:330.14px;font-size:14.3px;line-height:14.3px;color:#1b1b1b;font-weight:bold;letter-spacing:1.8325185185185184px;transform:scaleX(0.8307692307692308);transform-origin:right top;-webkit-text-stroke:0.25px #1b1b1b;">11.4</div>
<div class="t" style="right:508.78px;top:330.14px;font-size:14.3px;line-height:14.3px;color:#1b1b1b;font-weight:bold;letter-spacing:1.8325185185185184px;transform:scaleX(0.8307692307692308);transform-origin:right top;-webkit-text-stroke:0.25px #1b1b1b;">29.1</div>
<div class="t" style="left:298.90px;top:346.56px;font-size:14.3px;line-height:14.3px;color:#1b1b1b;font-weight:bold;letter-spacing:1.1334074074074074px;transform:scaleX(0.8307692307692308);transform-origin:left top;-webkit-text-stroke:0.25px #1b1b1b;">NFGC-21-118</div>
<div class="t" style="right:569.68px;top:346.56px;font-size:14.3px;line-height:14.3px;color:#1b1b1b;font-weight:bold;letter-spacing:1.8325185185185184px;transform:scaleX(0.8307692307692308);transform-origin:right top;-webkit-text-stroke:0.25px #1b1b1b;">13.7</div>
<div class="t" style="right:508.78px;top:346.56px;font-size:14.3px;line-height:14.3px;color:#1b1b1b;font-weight:bold;letter-spacing:1.8325185185185184px;transform:scaleX(0.8307692307692308);transform-origin:right top;-webkit-text-stroke:0.25px #1b1b1b;">61.8</div>
<div class="t" style="left:298.90px;top:362.98px;font-size:14.3px;line-height:14.3px;color:#1b1b1b;font-weight:bold;letter-spacing:1.1334074074074074px;transform:scaleX(0.8307692307692308);transform-origin:left top;-webkit-text-stroke:0.25px #1b1b1b;">NFGC-21-137</div>
<div class="t" style="right:569.68px;top:362.98px;font-size:14.3px;line-height:14.3px;color:#1b1b1b;font-weight:bold;letter-spacing:1.8325185185185184px;transform:scaleX(0.8307692307692308);transform-origin:right top;-webkit-text-stroke:0.25px #1b1b1b;">7.2</div>
<div class="t" style="right:508.78px;top:362.98px;font-size:14.3px;line-height:14.3px;color:#1b1b1b;font-weight:bold;letter-spacing:1.8325185185185184px;transform:scaleX(0.8307692307692308);transform-origin:right top;-webkit-text-stroke:0.25px #1b1b1b;">261.3</div>
<div class="t" style="left:298.90px;top:379.40px;font-size:14.3px;line-height:14.3px;color:#1b1b1b;font-weight:bold;letter-spacing:1.1334074074074074px;transform:scaleX(0.8307692307692308);transform-origin:left top;-webkit-text-stroke:0.25px #1b1b1b;">NFGC-21-143</div>
<div class="t" style="right:569.68px;top:379.40px;font-size:14.3px;line-height:14.3px;color:#1b1b1b;font-weight:bold;letter-spacing:1.8325185185185184px;transform:scaleX(0.8307692307692308);transform-origin:right top;-webkit-text-stroke:0.25px #1b1b1b;">2.5</div>
<div class="t" style="right:508.78px;top:379.40px;font-size:14.3px;line-height:14.3px;color:#1b1b1b;font-weight:bold;letter-spacing:1.8325185185185184px;transform:scaleX(0.8307692307692308);transform-origin:right top;-webkit-text-stroke:0.25px #1b1b1b;">16.9</div>
<div class="t" style="left:311.30px;top:395.82px;font-size:14.3px;line-height:14.3px;color:#1b1b1b;font-weight:bold;letter-spacing:1.1334074074074074px;transform:scaleX(0.8307692307692308);transform-origin:left top;-webkit-text-stroke:0.25px #1b1b1b;">And</div>
<div class="t" style="right:569.68px;top:395.82px;font-size:14.3px;line-height:14.3px;color:#1b1b1b;font-weight:bold;letter-spacing:1.8325185185185184px;transform:scaleX(0.8307692307692308);transform-origin:right top;-webkit-text-stroke:0.25px #1b1b1b;">8.4</div>
<div class="t" style="right:508.78px;top:395.82px;font-size:14.3px;line-height:14.3px;color:#1b1b1b;font-weight:bold;letter-spacing:1.8325185185185184px;transform:scaleX(0.8307692307692308);transform-origin:right top;-webkit-text-stroke:0.25px #1b1b1b;">63.7</div>
<div class="t" style="left:298.90px;top:412.24px;font-size:14.3px;line-height:14.3px;color:#1b1b1b;font-weight:bold;letter-spacing:1.1334074074074074px;transform:scaleX(0.8307692307692308);transform-origin:left top;-webkit-text-stroke:0.25px #1b1b1b;">NFGC-21-182</div>
<div class="t" style="right:569.68px;top:412.24px;font-size:14.3px;line-height:14.3px;color:#1b1b1b;font-weight:bold;letter-spacing:1.8325185185185184px;transform:scaleX(0.8307692307692308);transform-origin:right top;-webkit-text-stroke:0.25px #1b1b1b;">25.6</div>
<div class="t" style="right:508.78px;top:412.24px;font-size:14.3px;line-height:14.3px;color:#1b1b1b;font-weight:bold;letter-spacing:1.8325185185185184px;transform:scaleX(0.8307692307692308);transform-origin:right top;-webkit-text-stroke:0.25px #1b1b1b;">146.2</div>
<div class="t" style="left:298.90px;top:428.66px;font-size:14.3px;line-height:14.3px;color:#1b1b1b;font-weight:bold;letter-spacing:1.1334074074074074px;transform:scaleX(0.8307692307692308);transform-origin:left top;-webkit-text-stroke:0.25px #1b1b1b;">NFGC-21-204</div>
<div class="t" style="right:569.68px;top:428.66px;font-size:14.3px;line-height:14.3px;color:#1b1b1b;font-weight:bold;letter-spacing:1.8325185185185184px;transform:scaleX(0.8307692307692308);transform-origin:right top;-webkit-text-stroke:0.25px #1b1b1b;">8.1</div>
<div class="t" style="right:508.78px;top:428.66px;font-size:14.3px;line-height:14.3px;color:#1b1b1b;font-weight:bold;letter-spacing:1.8325185185185184px;transform:scaleX(0.8307692307692308);transform-origin:right top;-webkit-text-stroke:0.25px #1b1b1b;">21.4</div>
<div class="t" style="left:311.30px;top:445.08px;font-size:14.3px;line-height:14.3px;color:#1b1b1b;font-weight:bold;letter-spacing:1.1334074074074074px;transform:scaleX(0.8307692307692308);transform-origin:left top;-webkit-text-stroke:0.25px #1b1b1b;">And</div>
<div class="t" style="right:569.68px;top:445.08px;font-size:14.3px;line-height:14.3px;color:#1b1b1b;font-weight:bold;letter-spacing:1.8325185185185184px;transform:scaleX(0.8307692307692308);transform-origin:right top;-webkit-text-stroke:0.25px #1b1b1b;">12.9</div>
<div class="t" style="right:508.78px;top:445.08px;font-size:14.3px;line-height:14.3px;color:#1b1b1b;font-weight:bold;letter-spacing:1.8325185185185184px;transform:scaleX(0.8307692307692308);transform-origin:right top;-webkit-text-stroke:0.25px #1b1b1b;">14.9</div>
<div class="t" style="left:524.70px;top:297.50px;font-size:14.3px;line-height:14.3px;color:#1b1b1b;font-weight:bold;letter-spacing:0.9067259259259259px;transform:scaleX(0.8307692307692308);transform-origin:left top;-webkit-text-stroke:0.25px #1b1b1b;">Golden Joint Main</div>
<div class="t" style="left:523.60px;top:312.96px;font-size:14.3px;line-height:14.3px;color:#1b1b1b;font-weight:bold;letter-spacing:1.1334074074074074px;transform:scaleX(0.8307692307692308);transform-origin:left top;-webkit-text-stroke:0.25px #1b1b1b;">NFGC-21-171</div>
<div class="t" style="right:344.78px;top:312.96px;font-size:14.3px;line-height:14.3px;color:#1b1b1b;font-weight:bold;letter-spacing:1.8325185185185184px;transform:scaleX(0.8307692307692308);transform-origin:right top;-webkit-text-stroke:0.25px #1b1b1b;">4.9</div>
<div class="t" style="right:282.48px;top:312.96px;font-size:14.3px;line-height:14.3px;color:#1b1b1b;font-weight:bold;letter-spacing:1.8325185185185184px;transform:scaleX(0.8307692307692308);transform-origin:right top;-webkit-text-stroke:0.25px #1b1b1b;">10.4</div>
<div class="t" style="left:523.60px;top:328.42px;font-size:14.3px;line-height:14.3px;color:#1b1b1b;font-weight:bold;letter-spacing:1.1334074074074074px;transform:scaleX(0.8307692307692308);transform-origin:left top;-webkit-text-stroke:0.25px #1b1b1b;">NFGC-21-241</div>
<div class="t" style="right:344.78px;top:328.42px;font-size:14.3px;line-height:14.3px;color:#1b1b1b;font-weight:bold;letter-spacing:1.8325185185185184px;transform:scaleX(0.8307692307692308);transform-origin:right top;-webkit-text-stroke:0.25px #1b1b1b;">5.3</div>
<div class="t" style="right:282.48px;top:328.42px;font-size:14.3px;line-height:14.3px;color:#1b1b1b;font-weight:bold;letter-spacing:1.8325185185185184px;transform:scaleX(0.8307692307692308);transform-origin:right top;-webkit-text-stroke:0.25px #1b1b1b;">430.2</div>
<div class="t" style="left:524.70px;top:359.34px;font-size:14.3px;line-height:14.3px;color:#1b1b1b;font-weight:bold;letter-spacing:0.9067259259259259px;transform:scaleX(0.8307692307692308);transform-origin:left top;-webkit-text-stroke:0.25px #1b1b1b;">Golden Joint HW</div>
<div class="t" style="left:523.60px;top:374.80px;font-size:14.3px;line-height:14.3px;color:#1b1b1b;font-weight:bold;letter-spacing:1.1334074074074074px;transform:scaleX(0.8307692307692308);transform-origin:left top;-webkit-text-stroke:0.25px #1b1b1b;">NFGC-21-199</div>
<div class="t" style="right:344.78px;top:374.80px;font-size:14.3px;line-height:14.3px;color:#1b1b1b;font-weight:bold;letter-spacing:1.8325185185185184px;transform:scaleX(0.8307692307692308);transform-origin:right top;-webkit-text-stroke:0.25px #1b1b1b;">2.0</div>
<div class="t" style="right:282.48px;top:374.80px;font-size:14.3px;line-height:14.3px;color:#1b1b1b;font-weight:bold;letter-spacing:1.8325185185185184px;transform:scaleX(0.8307692307692308);transform-origin:right top;-webkit-text-stroke:0.25px #1b1b1b;">12.7</div>
<div class="t" style="left:749.10px;top:296.70px;font-size:14.3px;line-height:14.3px;color:#1b1b1b;font-weight:bold;letter-spacing:1.1334074074074074px;transform:scaleX(0.8307692307692308);transform-origin:left top;-webkit-text-stroke:0.25px #1b1b1b;">NFGC-20-17</div>
<div class="t" style="right:120.48px;top:296.70px;font-size:14.3px;line-height:14.3px;color:#1b1b1b;font-weight:bold;letter-spacing:1.8325185185185184px;transform:scaleX(0.8307692307692308);transform-origin:right top;-webkit-text-stroke:0.25px #1b1b1b;">4.8</div>
<div class="t" style="right:58.48px;top:296.70px;font-size:14.3px;line-height:14.3px;color:#1b1b1b;font-weight:bold;letter-spacing:1.8325185185185184px;transform:scaleX(0.8307692307692308);transform-origin:right top;-webkit-text-stroke:0.25px #1b1b1b;">41.2</div>
<div class="t" style="left:762.00px;top:312.48px;font-size:14.3px;line-height:14.3px;color:#1b1b1b;font-weight:bold;letter-spacing:1.1334074074074074px;transform:scaleX(0.8307692307692308);transform-origin:left top;-webkit-text-stroke:0.25px #1b1b1b;">And</div>
<div class="t" style="right:120.48px;top:312.48px;font-size:14.3px;line-height:14.3px;color:#1b1b1b;font-weight:bold;letter-spacing:1.8325185185185184px;transform:scaleX(0.8307692307692308);transform-origin:right top;-webkit-text-stroke:0.25px #1b1b1b;">5.2</div>
<div class="t" style="right:58.48px;top:312.48px;font-size:14.3px;line-height:14.3px;color:#1b1b1b;font-weight:bold;letter-spacing:1.8325185185185184px;transform:scaleX(0.8307692307692308);transform-origin:right top;-webkit-text-stroke:0.25px #1b1b1b;">25.4</div>
<div class="t" style="left:749.10px;top:328.26px;font-size:14.3px;line-height:14.3px;color:#1b1b1b;font-weight:bold;letter-spacing:1.1334074074074074px;transform:scaleX(0.8307692307692308);transform-origin:left top;-webkit-text-stroke:0.25px #1b1b1b;">NFGC-20-27</div>
<div class="t" style="right:120.48px;top:328.26px;font-size:14.3px;line-height:14.3px;color:#1b1b1b;font-weight:bold;letter-spacing:1.8325185185185184px;transform:scaleX(0.8307692307692308);transform-origin:right top;-webkit-text-stroke:0.25px #1b1b1b;">2.0</div>
<div class="t" style="right:58.48px;top:328.26px;font-size:14.3px;line-height:14.3px;color:#1b1b1b;font-weight:bold;letter-spacing:1.8325185185185184px;transform:scaleX(0.8307692307692308);transform-origin:right top;-webkit-text-stroke:0.25px #1b1b1b;">31.3</div>
<div class="t" style="left:749.10px;top:344.04px;font-size:14.3px;line-height:14.3px;color:#1b1b1b;font-weight:bold;letter-spacing:1.1334074074074074px;transform:scaleX(0.8307692307692308);transform-origin:left top;-webkit-text-stroke:0.25px #1b1b1b;">NFGC-20-44</div>
<div class="t" style="right:120.48px;top:344.04px;font-size:14.3px;line-height:14.3px;color:#1b1b1b;font-weight:bold;letter-spacing:1.8325185185185184px;transform:scaleX(0.8307692307692308);transform-origin:right top;-webkit-text-stroke:0.25px #1b1b1b;">3.0</div>
<div class="t" style="right:58.48px;top:344.04px;font-size:14.3px;line-height:14.3px;color:#1b1b1b;font-weight:bold;letter-spacing:1.8325185185185184px;transform:scaleX(0.8307692307692308);transform-origin:right top;-webkit-text-stroke:0.25px #1b1b1b;">38.7</div>
<div class="t" style="left:762.00px;top:359.82px;font-size:14.3px;line-height:14.3px;color:#1b1b1b;font-weight:bold;letter-spacing:1.1334074074074074px;transform:scaleX(0.8307692307692308);transform-origin:left top;-webkit-text-stroke:0.25px #1b1b1b;">Within</div>
<div class="t" style="right:120.48px;top:359.82px;font-size:14.3px;line-height:14.3px;color:#1b1b1b;font-weight:bold;letter-spacing:1.8325185185185184px;transform:scaleX(0.8307692307692308);transform-origin:right top;-webkit-text-stroke:0.25px #1b1b1b;">6.5</div>
<div class="t" style="right:58.48px;top:359.82px;font-size:14.3px;line-height:14.3px;color:#1b1b1b;font-weight:bold;letter-spacing:1.8325185185185184px;transform:scaleX(0.8307692307692308);transform-origin:right top;-webkit-text-stroke:0.25px #1b1b1b;">18.1</div>
<div class="t" style="left:749.10px;top:375.60px;font-size:14.3px;line-height:14.3px;color:#1b1b1b;font-weight:bold;letter-spacing:1.1334074074074074px;transform:scaleX(0.8307692307692308);transform-origin:left top;-webkit-text-stroke:0.25px #1b1b1b;">NFGC-20-50</div>
<div class="t" style="right:120.48px;top:375.60px;font-size:14.3px;line-height:14.3px;color:#1b1b1b;font-weight:bold;letter-spacing:1.8325185185185184px;transform:scaleX(0.8307692307692308);transform-origin:right top;-webkit-text-stroke:0.25px #1b1b1b;">2.1</div>
<div class="t" style="right:58.48px;top:375.60px;font-size:14.3px;line-height:14.3px;color:#1b1b1b;font-weight:bold;letter-spacing:1.8325185185185184px;transform:scaleX(0.8307692307692308);transform-origin:right top;-webkit-text-stroke:0.25px #1b1b1b;">65.3</div>
<div class="t" style="left:749.10px;top:391.38px;font-size:14.3px;line-height:14.3px;color:#1b1b1b;font-weight:bold;letter-spacing:1.1334074074074074px;transform:scaleX(0.8307692307692308);transform-origin:left top;-webkit-text-stroke:0.25px #1b1b1b;">NFGC-20-100</div>
<div class="t" style="right:120.48px;top:391.38px;font-size:14.3px;line-height:14.3px;color:#1b1b1b;font-weight:bold;letter-spacing:1.8325185185185184px;transform:scaleX(0.8307692307692308);transform-origin:right top;-webkit-text-stroke:0.25px #1b1b1b;">2.5</div>
<div class="t" style="right:58.48px;top:391.38px;font-size:14.3px;line-height:14.3px;color:#1b1b1b;font-weight:bold;letter-spacing:1.8325185185185184px;transform:scaleX(0.8307692307692308);transform-origin:right top;-webkit-text-stroke:0.25px #1b1b1b;">224.7</div>
<div class="t" style="left:749.10px;top:407.16px;font-size:14.3px;line-height:14.3px;color:#1b1b1b;font-weight:bold;letter-spacing:1.1334074074074074px;transform:scaleX(0.8307692307692308);transform-origin:left top;-webkit-text-stroke:0.25px #1b1b1b;">NFGC-21-109</div>
<div class="t" style="right:120.48px;top:407.16px;font-size:14.3px;line-height:14.3px;color:#1b1b1b;font-weight:bold;letter-spacing:1.8325185185185184px;transform:scaleX(0.8307692307692308);transform-origin:right top;-webkit-text-stroke:0.25px #1b1b1b;">3.2</div>
<div class="t" style="right:58.48px;top:407.16px;font-size:14.3px;line-height:14.3px;color:#1b1b1b;font-weight:bold;letter-spacing:1.8325185185185184px;transform:scaleX(0.8307692307692308);transform-origin:right top;-webkit-text-stroke:0.25px #1b1b1b;">51.3</div>
<div class="t" style="left:749.10px;top:422.94px;font-size:14.3px;line-height:14.3px;color:#1b1b1b;font-weight:bold;letter-spacing:1.1334074074074074px;transform:scaleX(0.8307692307692308);transform-origin:left top;-webkit-text-stroke:0.25px #1b1b1b;">NFGC-21-115</div>
<div class="t" style="right:120.48px;top:422.94px;font-size:14.3px;line-height:14.3px;color:#1b1b1b;font-weight:bold;letter-spacing:1.8325185185185184px;transform:scaleX(0.8307692307692308);transform-origin:right top;-webkit-text-stroke:0.25px #1b1b1b;">3.1</div>
<div class="t" style="right:58.48px;top:422.94px;font-size:14.3px;line-height:14.3px;color:#1b1b1b;font-weight:bold;letter-spacing:1.8325185185185184px;transform:scaleX(0.8307692307692308);transform-origin:right top;-webkit-text-stroke:0.25px #1b1b1b;">53.3</div>
<div class="t" style="left:749.10px;top:438.72px;font-size:14.3px;line-height:14.3px;color:#1b1b1b;font-weight:bold;letter-spacing:1.1334074074074074px;transform:scaleX(0.8307692307692308);transform-origin:left top;-webkit-text-stroke:0.25px #1b1b1b;">NFGC-21-201</div>
<div class="t" style="right:120.48px;top:438.72px;font-size:14.3px;line-height:14.3px;color:#1b1b1b;font-weight:bold;letter-spacing:1.8325185185185184px;transform:scaleX(0.8307692307692308);transform-origin:right top;-webkit-text-stroke:0.25px #1b1b1b;">2.4</div>
<div class="t" style="right:58.48px;top:438.72px;font-size:14.3px;line-height:14.3px;color:#1b1b1b;font-weight:bold;letter-spacing:1.8325185185185184px;transform:scaleX(0.8307692307692308);transform-origin:right top;-webkit-text-stroke:0.25px #1b1b1b;">683.1</div>
<div class="t" style="left:762.00px;top:454.50px;font-size:14.3px;line-height:14.3px;color:#1b1b1b;font-weight:bold;letter-spacing:1.1334074074074074px;transform:scaleX(0.8307692307692308);transform-origin:left top;-webkit-text-stroke:0.25px #1b1b1b;">Within</div>
<div class="t" style="right:120.48px;top:454.50px;font-size:14.3px;line-height:14.3px;color:#1b1b1b;font-weight:bold;letter-spacing:1.8325185185185184px;transform:scaleX(0.8307692307692308);transform-origin:right top;-webkit-text-stroke:0.25px #1b1b1b;">11.5</div>
<div class="t" style="right:58.48px;top:454.50px;font-size:14.3px;line-height:14.3px;color:#1b1b1b;font-weight:bold;letter-spacing:1.8325185185185184px;transform:scaleX(0.8307692307692308);transform-origin:right top;-webkit-text-stroke:0.25px #1b1b1b;">150.3</div>
<div class="t" style="left:749.10px;top:470.28px;font-size:14.3px;line-height:14.3px;color:#1b1b1b;font-weight:bold;letter-spacing:1.1334074074074074px;transform:scaleX(0.8307692307692308);transform-origin:left top;-webkit-text-stroke:0.25px #1b1b1b;">NFGC-21-233</div>
<div class="t" style="right:120.48px;top:470.28px;font-size:14.3px;line-height:14.3px;color:#1b1b1b;font-weight:bold;letter-spacing:1.8325185185185184px;transform:scaleX(0.8307692307692308);transform-origin:right top;-webkit-text-stroke:0.25px #1b1b1b;">2.7</div>
<div class="t" style="right:58.48px;top:470.28px;font-size:14.3px;line-height:14.3px;color:#1b1b1b;font-weight:bold;letter-spacing:1.8325185185185184px;transform:scaleX(0.8307692307692308);transform-origin:right top;-webkit-text-stroke:0.25px #1b1b1b;">111.4</div>
<div class="t" style="left:749.10px;top:486.06px;font-size:14.3px;line-height:14.3px;color:#1b1b1b;font-weight:bold;letter-spacing:1.1334074074074074px;transform:scaleX(0.8307692307692308);transform-origin:left top;-webkit-text-stroke:0.25px #1b1b1b;">NFGC-21-278</div>
<div class="t" style="right:120.48px;top:486.06px;font-size:14.3px;line-height:14.3px;color:#1b1b1b;font-weight:bold;letter-spacing:1.8325185185185184px;transform:scaleX(0.8307692307692308);transform-origin:right top;-webkit-text-stroke:0.25px #1b1b1b;">2.1</div>
<div class="t" style="right:58.48px;top:486.06px;font-size:14.3px;line-height:14.3px;color:#1b1b1b;font-weight:bold;letter-spacing:1.8325185185185184px;transform:scaleX(0.8307692307692308);transform-origin:right top;-webkit-text-stroke:0.25px #1b1b1b;">15.5</div>
<div class="t" style="left:749.10px;top:501.84px;font-size:14.3px;line-height:14.3px;color:#1b1b1b;font-weight:bold;letter-spacing:1.1334074074074074px;transform:scaleX(0.8307692307692308);transform-origin:left top;-webkit-text-stroke:0.25px #1b1b1b;">NFGC-21-311</div>
<div class="t" style="right:120.48px;top:501.84px;font-size:14.3px;line-height:14.3px;color:#1b1b1b;font-weight:bold;letter-spacing:1.8325185185185184px;transform:scaleX(0.8307692307692308);transform-origin:right top;-webkit-text-stroke:0.25px #1b1b1b;">2.8</div>
<div class="t" style="right:58.48px;top:501.84px;font-size:14.3px;line-height:14.3px;color:#1b1b1b;font-weight:bold;letter-spacing:1.8325185185185184px;transform:scaleX(0.8307692307692308);transform-origin:right top;-webkit-text-stroke:0.25px #1b1b1b;">76.8</div>
<div class="t" style="left:762.00px;top:517.62px;font-size:14.3px;line-height:14.3px;color:#1b1b1b;font-weight:bold;letter-spacing:1.1334074074074074px;transform:scaleX(0.8307692307692308);transform-origin:left top;-webkit-text-stroke:0.25px #1b1b1b;">Including</div>
<div class="t" style="right:120.48px;top:517.62px;font-size:14.3px;line-height:14.3px;color:#1b1b1b;font-weight:bold;letter-spacing:1.8325185185185184px;transform:scaleX(0.8307692307692308);transform-origin:right top;-webkit-text-stroke:0.25px #1b1b1b;">1.9</div>
<div class="t" style="right:58.48px;top:517.62px;font-size:14.3px;line-height:14.3px;color:#1b1b1b;font-weight:bold;letter-spacing:1.8325185185185184px;transform:scaleX(0.8307692307692308);transform-origin:right top;-webkit-text-stroke:0.25px #1b1b1b;">112.5</div>
</body></html>
